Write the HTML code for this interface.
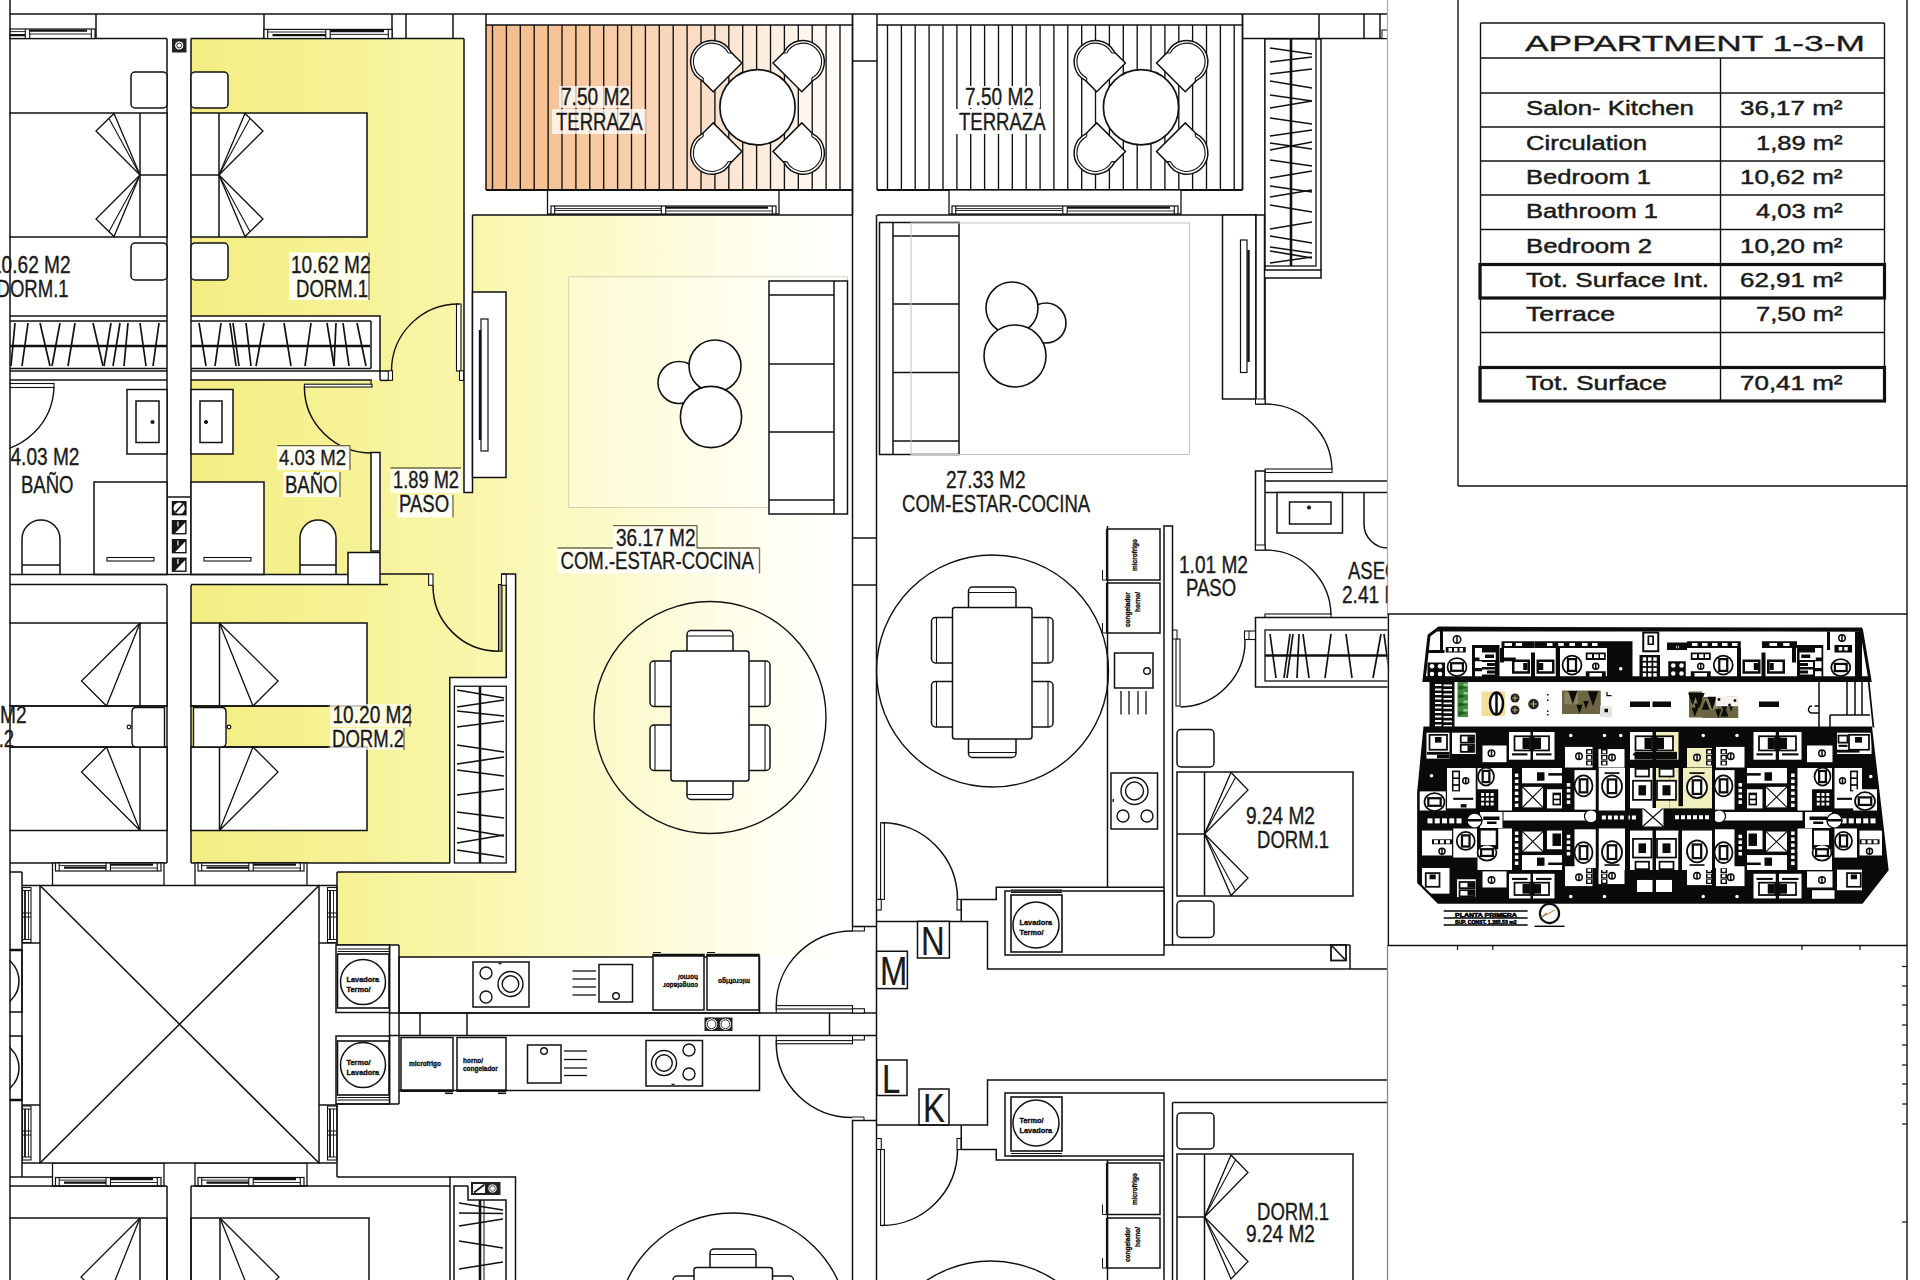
<!DOCTYPE html>
<html><head><meta charset="utf-8"><title>Appartment 1-3-M</title>
<style>
html,body{margin:0;padding:0;background:#fff;}
body{width:1920px;height:1280px;overflow:hidden;}
svg{display:block;font-family:"Liberation Sans",sans-serif;}
</style></head><body>
<svg width="1920" height="1280" viewBox="0 0 1920 1280">
<defs>
<linearGradient id="gy" gradientUnits="userSpaceOnUse" x1="191" y1="0" x2="853" y2="0">
<stop offset="0" stop-color="#f3ed82"/><stop offset="0.21" stop-color="#f6f193"/><stop offset="0.42" stop-color="#f9f6ab"/><stop offset="0.62" stop-color="#fcfac9"/><stop offset="0.8" stop-color="#fefde6"/><stop offset="0.93" stop-color="#fffffa"/><stop offset="1" stop-color="#ffffff"/>
</linearGradient>
<linearGradient id="go" gradientUnits="userSpaceOnUse" x1="486" y1="0" x2="853" y2="0">
<stop offset="0" stop-color="#f5ba88"/><stop offset="0.3" stop-color="#f7c9a2"/><stop offset="0.55" stop-color="#f9dbc2"/><stop offset="0.8" stop-color="#fdf0e4"/><stop offset="1" stop-color="#ffffff"/>
</linearGradient>
<clipPath id="clipL"><rect x="9.3" y="0" width="1378.2" height="1280"/></clipPath>
</defs>
<rect x="0" y="0" width="1920" height="1280" fill="#ffffff"/>
<g clip-path="url(#clipL)">
<rect x="191" y="38.5" width="273" height="341.5" fill="url(#gy)"/>
<rect x="191" y="380" width="273" height="205" fill="url(#gy)"/>
<rect x="380" y="492" width="473" height="93" fill="url(#gy)"/>
<rect x="472.5" y="215" width="380.5" height="742" fill="url(#gy)"/>
<rect x="191" y="585" width="310" height="278" fill="url(#gy)"/>
<rect x="337" y="872" width="183" height="73" fill="url(#gy)"/>
<rect x="399" y="944" width="121" height="13" fill="url(#gy)"/>
<rect x="486" y="25" width="367" height="165" fill="url(#go)"/>
<rect x="191" y="316" width="189" height="64" fill="#fff"/>
<rect x="380" y="370.8" width="8.300000000000011" height="9.599999999999966" fill="#fff"/>
<rect x="191" y="574.5" width="157" height="10.5" fill="#fff"/>
<rect x="450" y="677.5" width="65.5" height="194.5" fill="#fff"/>
<rect x="506.25" y="574" width="9.350000000000023" height="104" fill="#fff"/>
<rect x="501" y="585" width="5.25" height="92.5" fill="url(#gy)"/>
<rect x="191" y="863" width="146" height="9" fill="#fff"/>
<line x1="10" y1="14" x2="1387.5" y2="14" stroke="#111" stroke-width="1.5"/>
<line x1="10" y1="38.5" x2="167" y2="38.5" stroke="#111" stroke-width="1.5"/>
<line x1="191" y1="38.5" x2="464" y2="38.5" stroke="#111" stroke-width="1.5"/>
<line x1="96" y1="14" x2="96" y2="38.5" stroke="#111" stroke-width="1.5"/>
<line x1="264" y1="14" x2="264" y2="38.5" stroke="#111" stroke-width="1.5"/>
<line x1="392" y1="14" x2="392" y2="38.5" stroke="#111" stroke-width="1.5"/>
<line x1="406" y1="14" x2="406" y2="38.5" stroke="#111" stroke-width="1.5"/>
<line x1="453" y1="14" x2="453" y2="38.5" stroke="#111" stroke-width="1.5"/>
<rect x="-40" y="29" width="135" height="9.5" fill="#fff" stroke="#111" stroke-width="1.2"/>
<line x1="-36.3" y1="29" x2="-36.3" y2="38.5" stroke="#111" stroke-width="1.1"/>
<line x1="25.3" y1="29" x2="25.3" y2="38.5" stroke="#111" stroke-width="1.1"/>
<line x1="29.7" y1="29" x2="29.7" y2="38.5" stroke="#111" stroke-width="1.1"/>
<line x1="91.3" y1="29" x2="91.3" y2="38.5" stroke="#111" stroke-width="1.1"/>
<line x1="-31.5" y1="35.2" x2="25.3" y2="35.2" stroke="#111" stroke-width="2.2"/>
<line x1="-36.3" y1="31.6" x2="25.3" y2="31.6" stroke="#111" stroke-width="0.9"/>
<line x1="29.7" y1="30.6" x2="87" y2="30.6" stroke="#111" stroke-width="2.4"/>
<line x1="29.7" y1="34" x2="91.3" y2="34" stroke="#111" stroke-width="0.9"/>
<rect x="264" y="29.4" width="128" height="9.100000000000001" fill="#fff" stroke="#111" stroke-width="1.2"/>
<line x1="267.7" y1="29.4" x2="267.7" y2="38.5" stroke="#111" stroke-width="1.1"/>
<line x1="325.8" y1="29.4" x2="325.8" y2="38.5" stroke="#111" stroke-width="1.1"/>
<line x1="330.2" y1="29.4" x2="330.2" y2="38.5" stroke="#111" stroke-width="1.1"/>
<line x1="388.3" y1="29.4" x2="388.3" y2="38.5" stroke="#111" stroke-width="1.1"/>
<line x1="272.5" y1="35.2" x2="325.8" y2="35.2" stroke="#111" stroke-width="2.2"/>
<line x1="267.7" y1="32.0" x2="325.8" y2="32.0" stroke="#111" stroke-width="0.9"/>
<line x1="330.2" y1="31.0" x2="384" y2="31.0" stroke="#111" stroke-width="2.4"/>
<line x1="330.2" y1="34.4" x2="388.3" y2="34.4" stroke="#111" stroke-width="0.9"/>
<line x1="167" y1="38.5" x2="167" y2="574.5" stroke="#111" stroke-width="1.5"/>
<line x1="191" y1="38.5" x2="191" y2="574.5" stroke="#111" stroke-width="1.5"/>
<line x1="167" y1="585" x2="167" y2="863" stroke="#111" stroke-width="1.5"/>
<line x1="191" y1="585" x2="191" y2="863" stroke="#111" stroke-width="1.5"/>
<line x1="167" y1="1186" x2="167" y2="1280" stroke="#111" stroke-width="1.5"/>
<line x1="191" y1="1186" x2="191" y2="1280" stroke="#111" stroke-width="1.5"/>
<rect x="172" y="38.5" width="14.5" height="14.0" fill="#222"/>
<circle cx="179.2" cy="45.5" r="4.6" fill="#fff" stroke="#111" stroke-width="1"/>
<circle cx="179.2" cy="45.5" r="2.4" fill="#fff" stroke="#111" stroke-width="0.9"/>
<rect x="191" y="72" width="37" height="36" fill="#fff" stroke="#111" stroke-width="1.5" rx="4"/>
<rect x="131" y="72" width="36" height="36" fill="#fff" stroke="#111" stroke-width="1.5" rx="4"/>
<rect x="191" y="243" width="37" height="37" fill="#fff" stroke="#111" stroke-width="1.5" rx="4"/>
<rect x="131" y="243" width="36" height="37" fill="#fff" stroke="#111" stroke-width="1.5" rx="4"/>
<rect x="191" y="113" width="176" height="124" fill="#fff" stroke="#111" stroke-width="1.5"/>
<line x1="219" y1="113" x2="219" y2="237" stroke="#111" stroke-width="1.5"/>
<line x1="191" y1="175" x2="219" y2="175" stroke="#111" stroke-width="1.5"/>
<path d="M219,175 L245,113.5 L263,131.0 Z" fill="none" stroke="#111" stroke-width="1.3" />
<line x1="219" y1="175" x2="250" y2="118.4" stroke="#111" stroke-width="1.1"/>
<path d="M219,175 L245,236.5 L263,219.0 Z" fill="none" stroke="#111" stroke-width="1.3" />
<line x1="219" y1="175" x2="250" y2="231.6" stroke="#111" stroke-width="1.1"/>
<rect x="-20" y="113" width="187" height="124" fill="#fff" stroke="#111" stroke-width="1.5"/>
<line x1="140" y1="113" x2="140" y2="237" stroke="#111" stroke-width="1.5"/>
<line x1="140" y1="175" x2="167" y2="175" stroke="#111" stroke-width="1.5"/>
<path d="M140,175 L114,113.5 L96,131.0 Z" fill="none" stroke="#111" stroke-width="1.3" />
<line x1="140" y1="175" x2="109" y2="118.4" stroke="#111" stroke-width="1.1"/>
<path d="M140,175 L114,236.5 L96,219.0 Z" fill="none" stroke="#111" stroke-width="1.3" />
<line x1="140" y1="175" x2="109" y2="231.6" stroke="#111" stroke-width="1.1"/>
<path d="M191,316 L380,316 L380,371" fill="none" stroke="#111" stroke-width="1.5" />
<line x1="191" y1="321" x2="371" y2="321" stroke="#111" stroke-width="1.5"/>
<line x1="371" y1="321" x2="371" y2="368.5" stroke="#111" stroke-width="1.5"/>
<line x1="191" y1="368.5" x2="371" y2="368.5" stroke="#111" stroke-width="1.5"/>
<line x1="191" y1="371" x2="388" y2="371" stroke="#111" stroke-width="1.5"/>
<line x1="380" y1="371" x2="380" y2="380" stroke="#111" stroke-width="1.5"/>
<line x1="191" y1="346" x2="370" y2="346" stroke="#111" stroke-width="2.6"/>
<line x1="199" y1="323" x2="206" y2="366" stroke="#111" stroke-width="1.7"/>
<line x1="221" y1="323" x2="215" y2="366" stroke="#111" stroke-width="1.7"/>
<line x1="230" y1="323" x2="236" y2="366" stroke="#111" stroke-width="1.7"/>
<line x1="233" y1="323" x2="239" y2="366" stroke="#111" stroke-width="1.7"/>
<line x1="246" y1="323" x2="251" y2="366" stroke="#111" stroke-width="1.7"/>
<line x1="264" y1="323" x2="256" y2="366" stroke="#111" stroke-width="1.7"/>
<line x1="284" y1="323" x2="291" y2="366" stroke="#111" stroke-width="1.7"/>
<line x1="311" y1="323" x2="305" y2="366" stroke="#111" stroke-width="1.7"/>
<line x1="327" y1="323" x2="334" y2="366" stroke="#111" stroke-width="1.7"/>
<line x1="336" y1="323" x2="334" y2="366" stroke="#111" stroke-width="1.7"/>
<line x1="343" y1="323" x2="349" y2="366" stroke="#111" stroke-width="1.7"/>
<line x1="357" y1="323" x2="366" y2="366" stroke="#111" stroke-width="1.7"/>
<line x1="10" y1="316" x2="167" y2="316" stroke="#111" stroke-width="1.5"/>
<line x1="10" y1="321" x2="167" y2="321" stroke="#111" stroke-width="1.5"/>
<line x1="10" y1="368.5" x2="167" y2="368.5" stroke="#111" stroke-width="1.5"/>
<line x1="10" y1="371" x2="167" y2="371" stroke="#111" stroke-width="1.5"/>
<line x1="10" y1="346" x2="167" y2="346" stroke="#111" stroke-width="2.6"/>
<line x1="15" y1="323" x2="11" y2="366" stroke="#111" stroke-width="1.7"/>
<line x1="28" y1="323" x2="22" y2="366" stroke="#111" stroke-width="1.7"/>
<line x1="40" y1="323" x2="50" y2="366" stroke="#111" stroke-width="1.7"/>
<line x1="60" y1="323" x2="52" y2="366" stroke="#111" stroke-width="1.7"/>
<line x1="75" y1="323" x2="68" y2="366" stroke="#111" stroke-width="1.7"/>
<line x1="93" y1="323" x2="103" y2="366" stroke="#111" stroke-width="1.7"/>
<line x1="111" y1="323" x2="104" y2="366" stroke="#111" stroke-width="1.7"/>
<line x1="120" y1="323" x2="113" y2="366" stroke="#111" stroke-width="1.7"/>
<line x1="128" y1="323" x2="124" y2="366" stroke="#111" stroke-width="1.7"/>
<line x1="140" y1="323" x2="146" y2="366" stroke="#111" stroke-width="1.7"/>
<line x1="159" y1="323" x2="153" y2="366" stroke="#111" stroke-width="1.7"/>
<rect x="456.5" y="304" width="4.5" height="67" fill="#fff" stroke="#111" stroke-width="1.1"/>
<path d="M458.5,304 A67,67 0 0 0 391.5,371" fill="none" stroke="#111" stroke-width="1.4" />
<rect x="388.3" y="370.8" width="4.199999999999989" height="9.599999999999966" fill="#fff" stroke="#111" stroke-width="1.1"/>
<rect x="459.5" y="370.8" width="4.199999999999989" height="9.599999999999966" fill="#fff" stroke="#111" stroke-width="1.1"/>
<line x1="380" y1="380.4" x2="388.3" y2="380.4" stroke="#111" stroke-width="1.5"/>
<rect x="464" y="38.5" width="8.5" height="454.0" fill="#fff"/>
<path d="M464,38.5 L464,492.5 L472.5,492.5 L472.5,215" fill="none" stroke="#111" stroke-width="1.5" />
<line x1="10" y1="380" x2="167" y2="380" stroke="#111" stroke-width="1.5"/>
<line x1="191" y1="380" x2="372" y2="380" stroke="#111" stroke-width="1.5"/>
<rect x="191" y="389.5" width="42" height="64.5" fill="#fff" stroke="#111" stroke-width="1.5"/>
<rect x="200" y="401" width="22" height="41.5" fill="#fff" stroke="#111" stroke-width="1.5"/>
<circle cx="206" cy="422" r="1.6" fill="#222" stroke="#111" stroke-width="1"/>
<rect x="127" y="389.5" width="40" height="64.5" fill="#fff" stroke="#111" stroke-width="1.5"/>
<rect x="136" y="401" width="23" height="41.5" fill="#fff" stroke="#111" stroke-width="1.5"/>
<circle cx="152.5" cy="422" r="1.6" fill="#222" stroke="#111" stroke-width="1"/>
<rect x="191" y="482" width="73" height="92.5" fill="#fff" stroke="#111" stroke-width="1.5"/>
<rect x="204" y="557.5" width="47" height="3.5" fill="#fff" stroke="#111" stroke-width="1.1"/>
<rect x="94" y="482" width="73" height="92.5" fill="#fff" stroke="#111" stroke-width="1.5"/>
<rect x="107" y="557.5" width="47" height="3.5" fill="#fff" stroke="#111" stroke-width="1.1"/>
<path d="M300,574.5 L300,538.0 A18.0,18.0 0 0 1 336,538.0 L336,574.5" fill="#fff" stroke="#111" stroke-width="1.5" />
<line x1="300" y1="565" x2="336" y2="565" stroke="#111" stroke-width="1.5"/>
<path d="M22,574.5 L22,539.0 A19.0,19.0 0 0 1 60,539.0 L60,574.5" fill="#fff" stroke="#111" stroke-width="1.5" />
<line x1="22" y1="565" x2="60" y2="565" stroke="#111" stroke-width="1.5"/>
<line x1="167" y1="497" x2="191" y2="497" stroke="#111" stroke-width="1.5"/>
<rect x="171.8" y="501" width="14.799999999999983" height="14.399999999999977" fill="#161616"/>
<circle cx="179.2" cy="508.2" r="5.6" fill="#fff" stroke="#111" stroke-width="0"/>
<line x1="175.4" y1="512.4" x2="183" y2="504" stroke="#161616" stroke-width="1.7"/>
<rect x="171.8" y="520" width="14.799999999999983" height="14.399999999999977" fill="#161616"/>
<path d="M175.2,533 L185.2,522.4 L185.2,533 Z" fill="#fff" stroke="#111" stroke-width="0" />
<line x1="177.9" y1="521.5" x2="177.9" y2="526.5" stroke="#fff" stroke-width="1.1"/>
<rect x="171.8" y="539" width="14.799999999999983" height="14.399999999999977" fill="#161616"/>
<path d="M175.2,552 L185.2,541.4 L185.2,552 Z" fill="#fff" stroke="#111" stroke-width="0" />
<line x1="177.9" y1="540.5" x2="177.9" y2="545.5" stroke="#fff" stroke-width="1.1"/>
<rect x="171.8" y="557.5" width="14.799999999999983" height="14.399999999999977" fill="#161616"/>
<path d="M175.2,570.5 L185.2,559.9 L185.2,570.5 Z" fill="#fff" stroke="#111" stroke-width="0" />
<line x1="177.9" y1="559.0" x2="177.9" y2="564.0" stroke="#fff" stroke-width="1.1"/>
<rect x="304.4" y="384.2" width="67.60000000000002" height="2.8000000000000114" fill="#fff" stroke="#111" stroke-width="1.1"/>
<path d="M304.4,387 A67.5,66 0 0 0 372,453" fill="none" stroke="#111" stroke-width="1.5" />
<line x1="371" y1="380.5" x2="371" y2="384.2" stroke="#111" stroke-width="1.1"/>
<rect x="371" y="452.5" width="9" height="98.5" fill="#fff" stroke="#111" stroke-width="1.5"/>
<rect x="348" y="552.5" width="32" height="32.0" fill="#fff" stroke="#111" stroke-width="1.5"/>
<rect x="-20" y="383.5" width="74" height="4.0" fill="#fff" stroke="#111" stroke-width="1.1"/>
<path d="M54,387 A67,67 0 0 1 -13,452" fill="none" stroke="#111" stroke-width="1.4" />
<line x1="10" y1="574.5" x2="348" y2="574.5" stroke="#111" stroke-width="1.5"/>
<line x1="10" y1="584.5" x2="167" y2="584.5" stroke="#111" stroke-width="1.5"/>
<line x1="191" y1="584.5" x2="348" y2="584.5" stroke="#111" stroke-width="1.5"/>
<line x1="380" y1="584.5" x2="388" y2="584.5" stroke="#111" stroke-width="1.5"/>
<rect x="191" y="623" width="176" height="83" fill="#fff" stroke="#111" stroke-width="1.5"/>
<rect x="191" y="747" width="176" height="83.5" fill="#fff" stroke="#111" stroke-width="1.5"/>
<line x1="219.5" y1="623" x2="219.5" y2="706" stroke="#111" stroke-width="1.5"/>
<line x1="219.5" y1="747" x2="219.5" y2="830.5" stroke="#111" stroke-width="1.5"/>
<path d="M219.5,623 L278.0,681 L253.0,706 Z" fill="none" stroke="#111" stroke-width="1.3" />
<path d="M219.5,830.5 L278.0,772 L253.0,747 Z" fill="none" stroke="#111" stroke-width="1.3" />
<rect x="-20" y="623" width="187" height="83" fill="#fff" stroke="#111" stroke-width="1.5"/>
<rect x="-20" y="747" width="187" height="83.5" fill="#fff" stroke="#111" stroke-width="1.5"/>
<line x1="140" y1="623" x2="140" y2="706" stroke="#111" stroke-width="1.5"/>
<line x1="140" y1="747" x2="140" y2="830.5" stroke="#111" stroke-width="1.5"/>
<path d="M140,623 L81.5,681 L106.5,706 Z" fill="none" stroke="#111" stroke-width="1.3" />
<path d="M140,830.5 L81.5,772 L106.5,747 Z" fill="none" stroke="#111" stroke-width="1.3" />
<line x1="191" y1="706" x2="328" y2="706" stroke="#111" stroke-width="1.5"/>
<line x1="191" y1="747" x2="328" y2="747" stroke="#111" stroke-width="1.5"/>
<line x1="10" y1="706" x2="167" y2="706" stroke="#111" stroke-width="1.5"/>
<line x1="10" y1="747" x2="167" y2="747" stroke="#111" stroke-width="1.5"/>
<path d="M193.5,707.5 L222,707.5 Q226,707.5 226,712 L226,742 Q226,747 222,747 L193.5,747 Z" fill="#fff" stroke="#111" stroke-width="1.4" />
<circle cx="229" cy="727" r="1.8" fill="#fff" stroke="#111" stroke-width="1.2"/>
<path d="M164.5,707.5 L136,707.5 Q132,707.5 132,712 L132,742 Q132,747 136,747 L164.5,747 Z" fill="#fff" stroke="#111" stroke-width="1.4" />
<circle cx="129" cy="727" r="1.8" fill="#fff" stroke="#111" stroke-width="1.2"/>
<line x1="10" y1="863" x2="167" y2="863" stroke="#111" stroke-width="1.5"/>
<line x1="191" y1="863" x2="450" y2="863" stroke="#111" stroke-width="1.5"/>
<rect x="498.5" y="584.6" width="3.5" height="66.64999999999998" fill="#a39d7c" stroke="#111" stroke-width="1.1"/>
<path d="M433,585.25 A65.5,65.5 0 0 0 498.5,651.25" fill="none" stroke="#111" stroke-width="1.5" />
<rect x="428.6" y="574" width="4.399999999999977" height="11.25" fill="#fff" stroke="#111" stroke-width="1.1"/>
<line x1="380.3" y1="574" x2="428.6" y2="574" stroke="#111" stroke-width="1.5"/>
<rect x="501.5" y="574" width="4.75" height="11.25" fill="#fff" stroke="#111" stroke-width="1.1"/>
<path d="M501.5,574 L515.6,574 L515.6,872 L337,872" fill="none" stroke="#111" stroke-width="1.5" />
<path d="M506.25,585 L506.25,677.5 L449.75,677.5 L449.75,863" fill="none" stroke="#111" stroke-width="1.5" />
<rect x="454.4" y="686.25" width="51.85000000000002" height="176.75" fill="#fff" stroke="#111" stroke-width="1.3"/>
<line x1="480" y1="686" x2="480" y2="863" stroke="#111" stroke-width="2.6"/>
<line x1="457" y1="690" x2="504" y2="698" stroke="#111" stroke-width="1.7"/>
<line x1="457" y1="707" x2="504" y2="700" stroke="#111" stroke-width="1.7"/>
<line x1="457" y1="711" x2="504" y2="716" stroke="#111" stroke-width="1.7"/>
<line x1="457" y1="727" x2="504" y2="721" stroke="#111" stroke-width="1.7"/>
<line x1="457" y1="745" x2="504" y2="752" stroke="#111" stroke-width="1.7"/>
<line x1="457" y1="764" x2="504" y2="757" stroke="#111" stroke-width="1.7"/>
<line x1="457" y1="770" x2="504" y2="776" stroke="#111" stroke-width="1.7"/>
<line x1="457" y1="795" x2="504" y2="789" stroke="#111" stroke-width="1.7"/>
<line x1="457" y1="812" x2="504" y2="818" stroke="#111" stroke-width="1.7"/>
<line x1="457" y1="828" x2="504" y2="836" stroke="#111" stroke-width="1.7"/>
<line x1="457" y1="843" x2="504" y2="835" stroke="#111" stroke-width="1.7"/>
<line x1="457" y1="850" x2="504" y2="857" stroke="#111" stroke-width="1.7"/>
<rect x="52.5" y="863" width="111.5" height="22.5" fill="#fff" stroke="#111" stroke-width="1.3"/>
<rect x="55.5" y="863" width="105.5" height="8" fill="#fff" stroke="#111" stroke-width="1.2"/>
<line x1="59.2" y1="863" x2="59.2" y2="871" stroke="#111" stroke-width="1.1"/>
<line x1="106.05" y1="863" x2="106.05" y2="871" stroke="#111" stroke-width="1.1"/>
<line x1="110.45" y1="863" x2="110.45" y2="871" stroke="#111" stroke-width="1.1"/>
<line x1="157.3" y1="863" x2="157.3" y2="871" stroke="#111" stroke-width="1.1"/>
<line x1="64.0" y1="867.7" x2="106.05" y2="867.7" stroke="#111" stroke-width="2.2"/>
<line x1="59.2" y1="865.6" x2="106.05" y2="865.6" stroke="#111" stroke-width="0.9"/>
<line x1="110.45" y1="864.6" x2="153" y2="864.6" stroke="#111" stroke-width="2.4"/>
<line x1="110.45" y1="868" x2="157.3" y2="868" stroke="#111" stroke-width="0.9"/>
<rect x="52.5" y="1163" width="111.5" height="23" fill="#fff" stroke="#111" stroke-width="1.3"/>
<rect x="55.5" y="1177.5" width="105.5" height="8.5" fill="#fff" stroke="#111" stroke-width="1.2"/>
<line x1="59.2" y1="1177.5" x2="59.2" y2="1186" stroke="#111" stroke-width="1.1"/>
<line x1="106.05" y1="1177.5" x2="106.05" y2="1186" stroke="#111" stroke-width="1.1"/>
<line x1="110.45" y1="1177.5" x2="110.45" y2="1186" stroke="#111" stroke-width="1.1"/>
<line x1="157.3" y1="1177.5" x2="157.3" y2="1186" stroke="#111" stroke-width="1.1"/>
<line x1="64.0" y1="1182.7" x2="106.05" y2="1182.7" stroke="#111" stroke-width="2.2"/>
<line x1="59.2" y1="1180.1" x2="106.05" y2="1180.1" stroke="#111" stroke-width="0.9"/>
<line x1="110.45" y1="1179.1" x2="153" y2="1179.1" stroke="#111" stroke-width="2.4"/>
<line x1="110.45" y1="1182.5" x2="157.3" y2="1182.5" stroke="#111" stroke-width="0.9"/>
<rect x="195" y="863" width="112" height="22.5" fill="#fff" stroke="#111" stroke-width="1.3"/>
<rect x="198" y="863" width="106" height="8" fill="#fff" stroke="#111" stroke-width="1.2"/>
<line x1="201.7" y1="863" x2="201.7" y2="871" stroke="#111" stroke-width="1.1"/>
<line x1="248.8" y1="863" x2="248.8" y2="871" stroke="#111" stroke-width="1.1"/>
<line x1="253.2" y1="863" x2="253.2" y2="871" stroke="#111" stroke-width="1.1"/>
<line x1="300.3" y1="863" x2="300.3" y2="871" stroke="#111" stroke-width="1.1"/>
<line x1="206.5" y1="867.7" x2="248.8" y2="867.7" stroke="#111" stroke-width="2.2"/>
<line x1="201.7" y1="865.6" x2="248.8" y2="865.6" stroke="#111" stroke-width="0.9"/>
<line x1="253.2" y1="864.6" x2="296" y2="864.6" stroke="#111" stroke-width="2.4"/>
<line x1="253.2" y1="868" x2="300.3" y2="868" stroke="#111" stroke-width="0.9"/>
<rect x="195" y="1163" width="112" height="23" fill="#fff" stroke="#111" stroke-width="1.3"/>
<rect x="198" y="1177.5" width="106" height="8.5" fill="#fff" stroke="#111" stroke-width="1.2"/>
<line x1="201.7" y1="1177.5" x2="201.7" y2="1186" stroke="#111" stroke-width="1.1"/>
<line x1="248.8" y1="1177.5" x2="248.8" y2="1186" stroke="#111" stroke-width="1.1"/>
<line x1="253.2" y1="1177.5" x2="253.2" y2="1186" stroke="#111" stroke-width="1.1"/>
<line x1="300.3" y1="1177.5" x2="300.3" y2="1186" stroke="#111" stroke-width="1.1"/>
<line x1="206.5" y1="1182.7" x2="248.8" y2="1182.7" stroke="#111" stroke-width="2.2"/>
<line x1="201.7" y1="1180.1" x2="248.8" y2="1180.1" stroke="#111" stroke-width="0.9"/>
<line x1="253.2" y1="1179.1" x2="296" y2="1179.1" stroke="#111" stroke-width="2.4"/>
<line x1="253.2" y1="1182.5" x2="300.3" y2="1182.5" stroke="#111" stroke-width="0.9"/>
<line x1="10" y1="872" x2="22" y2="872" stroke="#111" stroke-width="1.5"/>
<line x1="22" y1="872" x2="22" y2="1177" stroke="#111" stroke-width="1.5"/>
<line x1="10" y1="1177" x2="52.5" y2="1177" stroke="#111" stroke-width="1.5"/>
<line x1="22" y1="885.5" x2="40" y2="885.5" stroke="#111" stroke-width="1.5"/>
<rect x="40" y="885.5" width="279" height="277.5" fill="#fff" stroke="#111" stroke-width="1.5"/>
<line x1="40" y1="885.5" x2="319" y2="1163" stroke="#111" stroke-width="1.5"/>
<line x1="319" y1="885.5" x2="40" y2="1163" stroke="#111" stroke-width="1.5"/>
<line x1="22" y1="1163" x2="40" y2="1163" stroke="#111" stroke-width="1.5"/>
<line x1="319" y1="1163" x2="337" y2="1163" stroke="#111" stroke-width="1.5"/>
<line x1="319" y1="885.5" x2="337" y2="885.5" stroke="#111" stroke-width="1.5"/>
<rect x="327.5" y="887.5" width="9.5" height="55.0" fill="#fff" stroke="#111" stroke-width="1.1"/>
<line x1="330.0" y1="890.5" x2="330.0" y2="939.5" stroke="#111" stroke-width="1.8"/>
<line x1="333.5" y1="890.5" x2="333.5" y2="939.5" stroke="#111" stroke-width="0.9"/>
<line x1="327.5" y1="913.0" x2="337" y2="913.0" stroke="#111" stroke-width="1"/>
<line x1="327.5" y1="917.0" x2="337" y2="917.0" stroke="#111" stroke-width="1"/>
<line x1="327.5" y1="890.5" x2="337" y2="890.5" stroke="#111" stroke-width="1"/>
<line x1="327.5" y1="939.5" x2="337" y2="939.5" stroke="#111" stroke-width="1"/>
<rect x="22.5" y="887.5" width="8.5" height="55.0" fill="#fff" stroke="#111" stroke-width="1.1"/>
<line x1="25.0" y1="890.5" x2="25.0" y2="939.5" stroke="#111" stroke-width="1.8"/>
<line x1="28.5" y1="890.5" x2="28.5" y2="939.5" stroke="#111" stroke-width="0.9"/>
<line x1="22.5" y1="913.0" x2="31" y2="913.0" stroke="#111" stroke-width="1"/>
<line x1="22.5" y1="917.0" x2="31" y2="917.0" stroke="#111" stroke-width="1"/>
<line x1="22.5" y1="890.5" x2="31" y2="890.5" stroke="#111" stroke-width="1"/>
<line x1="22.5" y1="939.5" x2="31" y2="939.5" stroke="#111" stroke-width="1"/>
<rect x="327.5" y="1106" width="9.5" height="54" fill="#fff" stroke="#111" stroke-width="1.1"/>
<line x1="330.0" y1="1109" x2="330.0" y2="1157" stroke="#111" stroke-width="1.8"/>
<line x1="333.5" y1="1109" x2="333.5" y2="1157" stroke="#111" stroke-width="0.9"/>
<line x1="327.5" y1="1131.0" x2="337" y2="1131.0" stroke="#111" stroke-width="1"/>
<line x1="327.5" y1="1135.0" x2="337" y2="1135.0" stroke="#111" stroke-width="1"/>
<line x1="327.5" y1="1109" x2="337" y2="1109" stroke="#111" stroke-width="1"/>
<line x1="327.5" y1="1157" x2="337" y2="1157" stroke="#111" stroke-width="1"/>
<rect x="22.5" y="1106" width="8.5" height="54" fill="#fff" stroke="#111" stroke-width="1.1"/>
<line x1="25.0" y1="1109" x2="25.0" y2="1157" stroke="#111" stroke-width="1.8"/>
<line x1="28.5" y1="1109" x2="28.5" y2="1157" stroke="#111" stroke-width="0.9"/>
<line x1="22.5" y1="1131.0" x2="31" y2="1131.0" stroke="#111" stroke-width="1"/>
<line x1="22.5" y1="1135.0" x2="31" y2="1135.0" stroke="#111" stroke-width="1"/>
<line x1="22.5" y1="1109" x2="31" y2="1109" stroke="#111" stroke-width="1"/>
<line x1="22.5" y1="1157" x2="31" y2="1157" stroke="#111" stroke-width="1"/>
<line x1="337" y1="872" x2="337" y2="945" stroke="#111" stroke-width="1.5"/>
<line x1="319" y1="943" x2="337" y2="943" stroke="#111" stroke-width="1.5"/>
<line x1="22" y1="943" x2="40" y2="943" stroke="#111" stroke-width="1.5"/>
<line x1="337" y1="1104" x2="337" y2="1177" stroke="#111" stroke-width="1.5"/>
<line x1="319" y1="1105" x2="337" y2="1105" stroke="#111" stroke-width="1.5"/>
<line x1="22" y1="1105" x2="40" y2="1105" stroke="#111" stroke-width="1.5"/>
<line x1="472.5" y1="215" x2="852.5" y2="215" stroke="#111" stroke-width="1.5"/>
<line x1="852.5" y1="215" x2="852.5" y2="926.5" stroke="#111" stroke-width="1.5"/>
<rect x="547.5" y="190" width="231.5" height="24" fill="#fff" stroke="#111" stroke-width="1.3"/>
<rect x="551" y="206" width="225" height="8" fill="#fff" stroke="#111" stroke-width="1.2"/>
<line x1="554.7" y1="206" x2="554.7" y2="214" stroke="#111" stroke-width="1.1"/>
<line x1="661.3" y1="206" x2="661.3" y2="214" stroke="#111" stroke-width="1.1"/>
<line x1="665.7" y1="206" x2="665.7" y2="214" stroke="#111" stroke-width="1.1"/>
<line x1="772.3" y1="206" x2="772.3" y2="214" stroke="#111" stroke-width="1.1"/>
<line x1="554.7" y1="210.5" x2="661.3" y2="210.5" stroke="#111" stroke-width="0.9"/>
<line x1="554.7" y1="208.6" x2="661.3" y2="208.6" stroke="#111" stroke-width="0.9"/>
<line x1="665.7" y1="207.6" x2="768" y2="207.6" stroke="#111" stroke-width="2.4"/>
<line x1="665.7" y1="211" x2="772.3" y2="211" stroke="#111" stroke-width="0.9"/>
<rect x="472.5" y="292" width="33.5" height="185.5" fill="#fff" stroke="#111" stroke-width="1.5"/>
<rect x="481" y="319" width="7" height="132" fill="#fff" stroke="#111" stroke-width="1.2"/>
<line x1="480" y1="330" x2="480" y2="440" stroke="#111" stroke-width="2.4"/>
<rect x="569" y="277" width="278.5" height="230.5" fill="#fff" stroke="#b9b9a6" stroke-width="1"/>
<rect x="569" y="277" width="278.5" height="230.5" fill="url(#gy)" opacity="0.75"/>
<rect x="769" y="281" width="78.5" height="233" fill="#fff" stroke="#111" stroke-width="1.5"/>
<line x1="834" y1="281" x2="834" y2="514" stroke="#111" stroke-width="1.5"/>
<line x1="769" y1="295" x2="834" y2="295" stroke="#111" stroke-width="1.5"/>
<line x1="769" y1="364" x2="834" y2="364" stroke="#111" stroke-width="1.5"/>
<line x1="769" y1="432" x2="834" y2="432" stroke="#111" stroke-width="1.5"/>
<line x1="769" y1="500" x2="834" y2="500" stroke="#111" stroke-width="1.5"/>
<circle cx="679" cy="382.5" r="21" fill="#fff" stroke="#111" stroke-width="1.6"/>
<circle cx="715" cy="366" r="26" fill="#fff" stroke="#111" stroke-width="1.6"/>
<circle cx="711" cy="417" r="30.6" fill="#fff" stroke="#111" stroke-width="1.6"/>
<circle cx="710" cy="717.5" r="116" fill="none" stroke="#111" stroke-width="1.4"/>
<rect x="687" y="630.5" width="46" height="24.5" fill="#fff" stroke="#111" stroke-width="1.5" rx="4"/>
<line x1="687" y1="636" x2="733" y2="636" stroke="#111" stroke-width="1.1"/>
<rect x="687" y="777" width="46" height="22.5" fill="#fff" stroke="#111" stroke-width="1.5" rx="4"/>
<line x1="687" y1="794.5" x2="733" y2="794.5" stroke="#111" stroke-width="1.1"/>
<rect x="650" y="661" width="25" height="45.5" fill="#fff" stroke="#111" stroke-width="1.5" rx="4"/>
<line x1="655" y1="661" x2="655" y2="706.5" stroke="#111" stroke-width="1.1"/>
<rect x="745" y="661" width="25" height="45.5" fill="#fff" stroke="#111" stroke-width="1.5" rx="4"/>
<line x1="765" y1="661" x2="765" y2="706.5" stroke="#111" stroke-width="1.1"/>
<rect x="650" y="725" width="25" height="45.5" fill="#fff" stroke="#111" stroke-width="1.5" rx="4"/>
<line x1="655" y1="725" x2="655" y2="770.5" stroke="#111" stroke-width="1.1"/>
<rect x="745" y="725" width="25" height="45.5" fill="#fff" stroke="#111" stroke-width="1.5" rx="4"/>
<line x1="765" y1="725" x2="765" y2="770.5" stroke="#111" stroke-width="1.1"/>
<rect x="671" y="651" width="78" height="130" fill="#fff" stroke="#111" stroke-width="1.5" rx="2.5"/>
<rect x="399" y="957" width="360.5" height="56" fill="#fff" stroke="#111" stroke-width="1.5"/>
<line x1="337" y1="945" x2="399" y2="945" stroke="#111" stroke-width="1.5"/>
<line x1="389.5" y1="945" x2="389.5" y2="1104" stroke="#111" stroke-width="1.5"/>
<line x1="399" y1="945" x2="399" y2="1104" stroke="#111" stroke-width="1.5"/>
<rect x="473" y="962" width="56" height="45" fill="#fff" stroke="#111" stroke-width="1.5"/>
<circle cx="510.5" cy="984" r="12.5" fill="none" stroke="#111" stroke-width="1.4"/>
<circle cx="510.5" cy="984" r="8.3" fill="none" stroke="#111" stroke-width="1.4"/>
<circle cx="486" cy="973" r="6" fill="none" stroke="#111" stroke-width="1.4"/>
<circle cx="486" cy="997" r="6" fill="none" stroke="#111" stroke-width="1.4"/>
<rect x="498.5" y="962.7" width="3.0" height="1.599999999999909" fill="#222"/>
<rect x="599" y="964.5" width="33.5" height="37.5" fill="#fff" stroke="#111" stroke-width="1.5"/>
<circle cx="616" cy="996" r="3.3" fill="none" stroke="#111" stroke-width="1.4"/>
<line x1="572.5" y1="971" x2="596" y2="971" stroke="#111" stroke-width="1.3"/>
<line x1="572.5" y1="979" x2="596" y2="979" stroke="#111" stroke-width="1.3"/>
<line x1="572.5" y1="987" x2="596" y2="987" stroke="#111" stroke-width="1.3"/>
<line x1="572.5" y1="995" x2="596" y2="995" stroke="#111" stroke-width="1.3"/>
<rect x="653" y="954.5" width="51" height="55.5" fill="#fff" stroke="#111" stroke-width="1.5"/>
<line x1="653" y1="955.3" x2="704" y2="955.3" stroke="#111" stroke-width="2.8"/>
<line x1="653" y1="952.5" x2="661" y2="952.5" stroke="#111" stroke-width="1"/>
<rect x="707" y="954.5" width="52" height="55.5" fill="#fff" stroke="#111" stroke-width="1.5"/>
<line x1="707" y1="955.3" x2="759" y2="955.3" stroke="#111" stroke-width="2.8"/>
<line x1="707" y1="952.5" x2="715" y2="952.5" stroke="#111" stroke-width="1"/>
<rect x="336" y="945" width="53.5" height="67.5" fill="#fff" stroke="#111" stroke-width="1.5"/>
<rect x="337.5" y="954" width="51.5" height="54" fill="#fff" stroke="#111" stroke-width="1.6"/>
<line x1="337.5" y1="951.5" x2="389" y2="951.5" stroke="#111" stroke-width="1"/>
<line x1="337.5" y1="949" x2="389" y2="949" stroke="#111" stroke-width="1"/>
<circle cx="363" cy="982" r="22.5" fill="#fff" stroke="#111" stroke-width="1.5"/>
<text transform="translate(346.5,981.5) scale(0.92,1)" font-size="8" text-anchor="start" fill="#111" font-weight="bold" stroke="#111" stroke-width="0.4">Lavadora</text>
<text transform="translate(346.5,991.5) scale(0.92,1)" font-size="8" text-anchor="start" fill="#111" font-weight="bold" stroke="#111" stroke-width="0.4">Termo/</text>
<rect x="336" y="1036" width="53.5" height="68" fill="#fff" stroke="#111" stroke-width="1.5"/>
<rect x="337.5" y="1041" width="51.5" height="54" fill="#fff" stroke="#111" stroke-width="1.6"/>
<line x1="337.5" y1="1097.5" x2="389" y2="1097.5" stroke="#111" stroke-width="1"/>
<line x1="337.5" y1="1100" x2="389" y2="1100" stroke="#111" stroke-width="1"/>
<circle cx="363" cy="1065" r="22.5" fill="#fff" stroke="#111" stroke-width="1.5"/>
<text transform="translate(346.5,1064.5) scale(0.92,1)" font-size="8" text-anchor="start" fill="#111" font-weight="bold" stroke="#111" stroke-width="0.4">Termo/</text>
<text transform="translate(346.5,1074.5) scale(0.92,1)" font-size="8" text-anchor="start" fill="#111" font-weight="bold" stroke="#111" stroke-width="0.4">Lavadora</text>
<rect x="-10" y="950" width="32" height="62" fill="none" stroke="#111" stroke-width="1.5"/>
<circle cx="-8" cy="981" r="27" fill="none" stroke="#111" stroke-width="1.5"/>
<rect x="-10" y="1036" width="32" height="64" fill="none" stroke="#111" stroke-width="1.5"/>
<circle cx="-8" cy="1068" r="27" fill="none" stroke="#111" stroke-width="1.5"/>
<line x1="10" y1="950" x2="22" y2="950" stroke="#111" stroke-width="2.5"/>
<line x1="10" y1="1100" x2="22" y2="1100" stroke="#111" stroke-width="2.5"/>
<line x1="389.5" y1="1013" x2="876.5" y2="1013" stroke="#111" stroke-width="1.5"/>
<line x1="389.5" y1="1035.5" x2="876.5" y2="1035.5" stroke="#111" stroke-width="1.5"/>
<line x1="420" y1="1013" x2="420" y2="1035.5" stroke="#111" stroke-width="1.5"/>
<line x1="467" y1="1013" x2="467" y2="1035.5" stroke="#111" stroke-width="1.5"/>
<line x1="829.5" y1="1013" x2="829.5" y2="1035.5" stroke="#111" stroke-width="1.5"/>
<rect x="704.5" y="1017.5" width="28.0" height="13.5" fill="#222"/>
<circle cx="711.6" cy="1024.2" r="6.2" fill="#fff" stroke="#111" stroke-width="0.9"/>
<circle cx="725.4" cy="1024.2" r="6.2" fill="#fff" stroke="#111" stroke-width="0.9"/>
<circle cx="711.6" cy="1024.2" r="4.4" fill="#fff" stroke="#111" stroke-width="0.9"/>
<circle cx="725.4" cy="1024.2" r="4.4" fill="#fff" stroke="#111" stroke-width="0.9"/>
<path d="M399,1090.5 L759.5,1090.5 L759.5,1035.5" fill="none" stroke="#111" stroke-width="1.5" />
<rect x="401" y="1037.5" width="52" height="53.5" fill="#fff" stroke="#111" stroke-width="1.5"/>
<line x1="401" y1="1090.7" x2="453" y2="1090.7" stroke="#111" stroke-width="2.8"/>
<line x1="445" y1="1093.3" x2="453" y2="1093.3" stroke="#111" stroke-width="1.6"/>
<rect x="457" y="1037.5" width="49" height="53.5" fill="#fff" stroke="#111" stroke-width="1.5"/>
<line x1="457" y1="1090.7" x2="506" y2="1090.7" stroke="#111" stroke-width="2.8"/>
<line x1="498" y1="1093.3" x2="506" y2="1093.3" stroke="#111" stroke-width="1.6"/>
<rect x="527.5" y="1045" width="33.5" height="38" fill="#fff" stroke="#111" stroke-width="1.5"/>
<circle cx="544" cy="1051" r="3.3" fill="none" stroke="#111" stroke-width="1.4"/>
<line x1="564" y1="1051" x2="587" y2="1051" stroke="#111" stroke-width="1.3"/>
<line x1="564" y1="1059.5" x2="587" y2="1059.5" stroke="#111" stroke-width="1.3"/>
<line x1="564" y1="1068" x2="587" y2="1068" stroke="#111" stroke-width="1.3"/>
<line x1="564" y1="1075.5" x2="587" y2="1075.5" stroke="#111" stroke-width="1.3"/>
<rect x="646" y="1040.5" width="56.5" height="45.5" fill="#fff" stroke="#111" stroke-width="1.5"/>
<circle cx="664" cy="1063" r="12.5" fill="none" stroke="#111" stroke-width="1.4"/>
<circle cx="664" cy="1063" r="8.3" fill="none" stroke="#111" stroke-width="1.4"/>
<circle cx="689" cy="1050" r="6" fill="none" stroke="#111" stroke-width="1.4"/>
<circle cx="689" cy="1074" r="6" fill="none" stroke="#111" stroke-width="1.4"/>
<rect x="671.5" y="1083.7" width="3.0" height="1.599999999999909" fill="#222"/>
<line x1="337" y1="1104" x2="399" y2="1104" stroke="#111" stroke-width="1.5"/>
<line x1="337" y1="1177" x2="450" y2="1177" stroke="#111" stroke-width="1.5"/>
<path d="M450,1280 L450,1177 L515.5,1177 L515.5,1280" fill="none" stroke="#111" stroke-width="1.5" />
<path d="M454,1280 L454,1186 L468,1186" fill="none" stroke="#111" stroke-width="1.5" />
<path d="M506,1280 L506,1200 L468,1200 L468,1186" fill="none" stroke="#111" stroke-width="1.5" />
<line x1="191" y1="1186" x2="450" y2="1186" stroke="#111" stroke-width="1.5"/>
<line x1="10" y1="1186" x2="167" y2="1186" stroke="#111" stroke-width="1.5"/>
<rect x="471" y="1182" width="29.5" height="13" fill="#222"/>
<rect x="473" y="1184" width="12" height="9" fill="#fff"/>
<line x1="474" y1="1192.5" x2="484.5" y2="1184.5" stroke="#111" stroke-width="1.6"/>
<circle cx="492.5" cy="1188.5" r="4.6" fill="#fff" stroke="#111" stroke-width="0.8"/>
<circle cx="492.5" cy="1188.5" r="2.8" fill="#fff" stroke="#111" stroke-width="0.8"/>
<line x1="480" y1="1200" x2="480" y2="1280" stroke="#111" stroke-width="2.6"/>
<line x1="484" y1="1200" x2="484" y2="1280" stroke="#111" stroke-width="1"/>
<line x1="459" y1="1203" x2="503" y2="1210" stroke="#111" stroke-width="1.7"/>
<line x1="459" y1="1213" x2="503" y2="1213.5" stroke="#111" stroke-width="1.7"/>
<line x1="459" y1="1226" x2="503" y2="1219" stroke="#111" stroke-width="1.7"/>
<line x1="459" y1="1241" x2="503" y2="1248" stroke="#111" stroke-width="1.7"/>
<line x1="459" y1="1269" x2="503" y2="1262" stroke="#111" stroke-width="1.7"/>
<rect x="-20" y="1218" width="187" height="82" fill="none" stroke="#111" stroke-width="1.5"/>
<line x1="140" y1="1218" x2="140" y2="1280" stroke="#111" stroke-width="1.5"/>
<rect x="191" y="1218" width="178" height="82" fill="none" stroke="#111" stroke-width="1.5"/>
<line x1="220" y1="1218" x2="220" y2="1280" stroke="#111" stroke-width="1.5"/>
<path d="M220,1218 L279,1277 L270,1286" fill="none" stroke="#111" stroke-width="1.3" />
<line x1="220" y1="1218" x2="246" y2="1283" stroke="#111" stroke-width="1.3"/>
<path d="M140,1218 L81,1277 L90,1286" fill="none" stroke="#111" stroke-width="1.3" />
<line x1="140" y1="1218" x2="114" y2="1283" stroke="#111" stroke-width="1.3"/>
<circle cx="732.5" cy="1329" r="116" fill="none" stroke="#111" stroke-width="1.4"/>
<rect x="710" y="1249" width="46" height="21" fill="#fff" stroke="#111" stroke-width="1.5" rx="4"/>
<line x1="710" y1="1254.5" x2="756" y2="1254.5" stroke="#111" stroke-width="1.1"/>
<rect x="673" y="1276" width="25" height="24" fill="#fff" stroke="#111" stroke-width="1.5" rx="4"/>
<rect x="768.5" y="1276" width="25.0" height="24" fill="#fff" stroke="#111" stroke-width="1.5" rx="4"/>
<rect x="694" y="1267.5" width="78.5" height="32.5" fill="#fff" stroke="#111" stroke-width="1.5" rx="2.5"/>
<line x1="876.5" y1="215" x2="876.5" y2="1280" stroke="#111" stroke-width="1.5"/>
<line x1="852.5" y1="538" x2="876.5" y2="538" stroke="#111" stroke-width="1.5"/>
<line x1="852.5" y1="585" x2="876.5" y2="585" stroke="#111" stroke-width="1.5"/>
<path d="M852.5,931 A76.25,74.5 0 0 0 776.25,1005.5" fill="none" stroke="#111" stroke-width="1.5" />
<rect x="776.25" y="1005.6" width="76.25" height="3.3999999999999773" fill="#fff" stroke="#111" stroke-width="1.1"/>
<line x1="776.25" y1="1013" x2="776.25" y2="1005.6" stroke="#111" stroke-width="1.1"/>
<rect x="852.5" y="1008.75" width="11.899999999999977" height="4.25" fill="#fff" stroke="#111" stroke-width="1.1"/>
<rect x="852.5" y="926.5" width="11.899999999999977" height="4.5" fill="#fff" stroke="#111" stroke-width="1.1"/>
<line x1="852.5" y1="926.5" x2="876.25" y2="926.5" stroke="#111" stroke-width="1.5"/>
<path d="M776.25,1043.75 A76.25,74 0 0 0 852.5,1117.5" fill="none" stroke="#111" stroke-width="1.5" />
<rect x="776.25" y="1040.6" width="76.25" height="3.150000000000091" fill="#fff" stroke="#111" stroke-width="1.1"/>
<line x1="776.25" y1="1035.6" x2="776.25" y2="1043.75" stroke="#111" stroke-width="1.1"/>
<rect x="852.5" y="1035.6" width="11.899999999999977" height="4.400000000000091" fill="#fff" stroke="#111" stroke-width="1.1"/>
<path d="M852.5,1280 L852.5,1120.5 L876.5,1120.5" fill="none" stroke="#111" stroke-width="1.5" />
<path d="M852.5,1117 L864,1117 L864,1120.5" fill="none" stroke="#111" stroke-width="1" />
<line x1="486" y1="14" x2="486" y2="190" stroke="#111" stroke-width="1.5"/>
<line x1="486" y1="25" x2="852.5" y2="25" stroke="#111" stroke-width="1.5"/>
<line x1="486" y1="190" x2="852.5" y2="190" stroke="#111" stroke-width="1.8"/>
<line x1="852.5" y1="14" x2="852.5" y2="215" stroke="#111" stroke-width="1.8"/>
<line x1="492.5" y1="25" x2="492.5" y2="190" stroke="#111" stroke-width="1.35"/>
<line x1="506.4" y1="25" x2="506.4" y2="190" stroke="#111" stroke-width="1.35"/>
<line x1="520.3" y1="25" x2="520.3" y2="190" stroke="#111" stroke-width="1.35"/>
<line x1="534.2" y1="25" x2="534.2" y2="190" stroke="#111" stroke-width="1.35"/>
<line x1="548.1" y1="25" x2="548.1" y2="190" stroke="#111" stroke-width="1.35"/>
<line x1="562.0" y1="25" x2="562.0" y2="190" stroke="#111" stroke-width="1.35"/>
<line x1="575.9" y1="25" x2="575.9" y2="190" stroke="#111" stroke-width="1.35"/>
<line x1="589.8" y1="25" x2="589.8" y2="190" stroke="#111" stroke-width="1.35"/>
<line x1="603.7" y1="25" x2="603.7" y2="190" stroke="#111" stroke-width="1.35"/>
<line x1="617.6" y1="25" x2="617.6" y2="190" stroke="#111" stroke-width="1.35"/>
<line x1="631.5" y1="25" x2="631.5" y2="190" stroke="#111" stroke-width="1.35"/>
<line x1="645.4" y1="25" x2="645.4" y2="190" stroke="#111" stroke-width="1.35"/>
<line x1="659.3" y1="25" x2="659.3" y2="190" stroke="#111" stroke-width="1.35"/>
<line x1="673.2" y1="25" x2="673.2" y2="190" stroke="#111" stroke-width="1.35"/>
<line x1="687.1" y1="25" x2="687.1" y2="190" stroke="#111" stroke-width="1.35"/>
<line x1="701.0" y1="25" x2="701.0" y2="190" stroke="#111" stroke-width="1.35"/>
<line x1="714.9" y1="25" x2="714.9" y2="190" stroke="#111" stroke-width="1.35"/>
<line x1="728.8" y1="25" x2="728.8" y2="190" stroke="#111" stroke-width="1.35"/>
<line x1="742.7" y1="25" x2="742.7" y2="190" stroke="#111" stroke-width="1.35"/>
<line x1="756.6" y1="25" x2="756.6" y2="190" stroke="#111" stroke-width="1.35"/>
<line x1="770.5" y1="25" x2="770.5" y2="190" stroke="#111" stroke-width="1.35"/>
<line x1="784.4" y1="25" x2="784.4" y2="190" stroke="#111" stroke-width="1.35"/>
<line x1="798.3" y1="25" x2="798.3" y2="190" stroke="#111" stroke-width="1.35"/>
<line x1="812.2" y1="25" x2="812.2" y2="190" stroke="#111" stroke-width="1.35"/>
<line x1="826.1" y1="25" x2="826.1" y2="190" stroke="#111" stroke-width="1.35"/>
<line x1="840.0" y1="25" x2="840.0" y2="190" stroke="#111" stroke-width="1.35"/>
<line x1="877" y1="14" x2="877" y2="190" stroke="#111" stroke-width="1.5"/>
<line x1="877" y1="25" x2="1242.5" y2="25" stroke="#111" stroke-width="1.5"/>
<line x1="877" y1="190" x2="1242.5" y2="190" stroke="#111" stroke-width="1.8"/>
<line x1="1242.5" y1="14" x2="1242.5" y2="190" stroke="#111" stroke-width="1.8"/>
<line x1="887.5" y1="25" x2="887.5" y2="190" stroke="#111" stroke-width="1.35"/>
<line x1="901.4" y1="25" x2="901.4" y2="190" stroke="#111" stroke-width="1.35"/>
<line x1="915.2" y1="25" x2="915.2" y2="190" stroke="#111" stroke-width="1.35"/>
<line x1="929.1" y1="25" x2="929.1" y2="190" stroke="#111" stroke-width="1.35"/>
<line x1="943.0" y1="25" x2="943.0" y2="190" stroke="#111" stroke-width="1.35"/>
<line x1="956.9" y1="25" x2="956.9" y2="190" stroke="#111" stroke-width="1.35"/>
<line x1="970.7" y1="25" x2="970.7" y2="190" stroke="#111" stroke-width="1.35"/>
<line x1="984.6" y1="25" x2="984.6" y2="190" stroke="#111" stroke-width="1.35"/>
<line x1="998.5" y1="25" x2="998.5" y2="190" stroke="#111" stroke-width="1.35"/>
<line x1="1012.3" y1="25" x2="1012.3" y2="190" stroke="#111" stroke-width="1.35"/>
<line x1="1026.2" y1="25" x2="1026.2" y2="190" stroke="#111" stroke-width="1.35"/>
<line x1="1040.1" y1="25" x2="1040.1" y2="190" stroke="#111" stroke-width="1.35"/>
<line x1="1053.9" y1="25" x2="1053.9" y2="190" stroke="#111" stroke-width="1.35"/>
<line x1="1067.8" y1="25" x2="1067.8" y2="190" stroke="#111" stroke-width="1.35"/>
<line x1="1081.7" y1="25" x2="1081.7" y2="190" stroke="#111" stroke-width="1.35"/>
<line x1="1095.5" y1="25" x2="1095.5" y2="190" stroke="#111" stroke-width="1.35"/>
<line x1="1109.4" y1="25" x2="1109.4" y2="190" stroke="#111" stroke-width="1.35"/>
<line x1="1123.3" y1="25" x2="1123.3" y2="190" stroke="#111" stroke-width="1.35"/>
<line x1="1137.2" y1="25" x2="1137.2" y2="190" stroke="#111" stroke-width="1.35"/>
<line x1="1151.0" y1="25" x2="1151.0" y2="190" stroke="#111" stroke-width="1.35"/>
<line x1="1164.9" y1="25" x2="1164.9" y2="190" stroke="#111" stroke-width="1.35"/>
<line x1="1178.8" y1="25" x2="1178.8" y2="190" stroke="#111" stroke-width="1.35"/>
<line x1="1192.6" y1="25" x2="1192.6" y2="190" stroke="#111" stroke-width="1.35"/>
<line x1="1206.5" y1="25" x2="1206.5" y2="190" stroke="#111" stroke-width="1.35"/>
<line x1="1220.4" y1="25" x2="1220.4" y2="190" stroke="#111" stroke-width="1.35"/>
<line x1="1234.2" y1="25" x2="1234.2" y2="190" stroke="#111" stroke-width="1.35"/>
<line x1="852.5" y1="61" x2="877" y2="61" stroke="#111" stroke-width="1.5"/>
<g transform="translate(757.5,107.3) rotate(45)">
<path d="M42.3,-20.3 L58,-20.3 A21.3,21.3 0 1 1 58,20.3 L42.3,20.3 Z" fill="#fff" stroke="#111" stroke-width="1.5" />
<path d="M59.1,-17.7 A18.5,18.5 0 1 1 59.1,17.7" fill="none" stroke="#111" stroke-width="1.1" />
<line x1="59.1" y1="-17.7" x2="56.5" y2="-20.3" stroke="#111" stroke-width="1.1"/>
<line x1="59.1" y1="17.7" x2="56.5" y2="20.3" stroke="#111" stroke-width="1.1"/>
</g>
<g transform="translate(757.5,107.3) rotate(135)">
<path d="M42.3,-20.3 L58,-20.3 A21.3,21.3 0 1 1 58,20.3 L42.3,20.3 Z" fill="#fff" stroke="#111" stroke-width="1.5" />
<path d="M59.1,-17.7 A18.5,18.5 0 1 1 59.1,17.7" fill="none" stroke="#111" stroke-width="1.1" />
<line x1="59.1" y1="-17.7" x2="56.5" y2="-20.3" stroke="#111" stroke-width="1.1"/>
<line x1="59.1" y1="17.7" x2="56.5" y2="20.3" stroke="#111" stroke-width="1.1"/>
</g>
<g transform="translate(757.5,107.3) rotate(225)">
<path d="M42.3,-20.3 L58,-20.3 A21.3,21.3 0 1 1 58,20.3 L42.3,20.3 Z" fill="#fff" stroke="#111" stroke-width="1.5" />
<path d="M59.1,-17.7 A18.5,18.5 0 1 1 59.1,17.7" fill="none" stroke="#111" stroke-width="1.1" />
<line x1="59.1" y1="-17.7" x2="56.5" y2="-20.3" stroke="#111" stroke-width="1.1"/>
<line x1="59.1" y1="17.7" x2="56.5" y2="20.3" stroke="#111" stroke-width="1.1"/>
</g>
<g transform="translate(757.5,107.3) rotate(315)">
<path d="M42.3,-20.3 L58,-20.3 A21.3,21.3 0 1 1 58,20.3 L42.3,20.3 Z" fill="#fff" stroke="#111" stroke-width="1.5" />
<path d="M59.1,-17.7 A18.5,18.5 0 1 1 59.1,17.7" fill="none" stroke="#111" stroke-width="1.1" />
<line x1="59.1" y1="-17.7" x2="56.5" y2="-20.3" stroke="#111" stroke-width="1.1"/>
<line x1="59.1" y1="17.7" x2="56.5" y2="20.3" stroke="#111" stroke-width="1.1"/>
</g>
<circle cx="757.5" cy="107.3" r="37.6" fill="#fff" stroke="#111" stroke-width="1.7"/>
<g transform="translate(1141,107.3) rotate(45)">
<path d="M42.3,-20.3 L58,-20.3 A21.3,21.3 0 1 1 58,20.3 L42.3,20.3 Z" fill="#fff" stroke="#111" stroke-width="1.5" />
<path d="M59.1,-17.7 A18.5,18.5 0 1 1 59.1,17.7" fill="none" stroke="#111" stroke-width="1.1" />
<line x1="59.1" y1="-17.7" x2="56.5" y2="-20.3" stroke="#111" stroke-width="1.1"/>
<line x1="59.1" y1="17.7" x2="56.5" y2="20.3" stroke="#111" stroke-width="1.1"/>
</g>
<g transform="translate(1141,107.3) rotate(135)">
<path d="M42.3,-20.3 L58,-20.3 A21.3,21.3 0 1 1 58,20.3 L42.3,20.3 Z" fill="#fff" stroke="#111" stroke-width="1.5" />
<path d="M59.1,-17.7 A18.5,18.5 0 1 1 59.1,17.7" fill="none" stroke="#111" stroke-width="1.1" />
<line x1="59.1" y1="-17.7" x2="56.5" y2="-20.3" stroke="#111" stroke-width="1.1"/>
<line x1="59.1" y1="17.7" x2="56.5" y2="20.3" stroke="#111" stroke-width="1.1"/>
</g>
<g transform="translate(1141,107.3) rotate(225)">
<path d="M42.3,-20.3 L58,-20.3 A21.3,21.3 0 1 1 58,20.3 L42.3,20.3 Z" fill="#fff" stroke="#111" stroke-width="1.5" />
<path d="M59.1,-17.7 A18.5,18.5 0 1 1 59.1,17.7" fill="none" stroke="#111" stroke-width="1.1" />
<line x1="59.1" y1="-17.7" x2="56.5" y2="-20.3" stroke="#111" stroke-width="1.1"/>
<line x1="59.1" y1="17.7" x2="56.5" y2="20.3" stroke="#111" stroke-width="1.1"/>
</g>
<g transform="translate(1141,107.3) rotate(315)">
<path d="M42.3,-20.3 L58,-20.3 A21.3,21.3 0 1 1 58,20.3 L42.3,20.3 Z" fill="#fff" stroke="#111" stroke-width="1.5" />
<path d="M59.1,-17.7 A18.5,18.5 0 1 1 59.1,17.7" fill="none" stroke="#111" stroke-width="1.1" />
<line x1="59.1" y1="-17.7" x2="56.5" y2="-20.3" stroke="#111" stroke-width="1.1"/>
<line x1="59.1" y1="17.7" x2="56.5" y2="20.3" stroke="#111" stroke-width="1.1"/>
</g>
<circle cx="1141" cy="107.3" r="37.6" fill="#fff" stroke="#111" stroke-width="1.7"/>
<rect x="949" y="190" width="232" height="24" fill="#fff" stroke="#111" stroke-width="1.3"/>
<rect x="952" y="206" width="226" height="8" fill="#fff" stroke="#111" stroke-width="1.2"/>
<line x1="955.7" y1="206" x2="955.7" y2="214" stroke="#111" stroke-width="1.1"/>
<line x1="1062.8" y1="206" x2="1062.8" y2="214" stroke="#111" stroke-width="1.1"/>
<line x1="1067.2" y1="206" x2="1067.2" y2="214" stroke="#111" stroke-width="1.1"/>
<line x1="1174.3" y1="206" x2="1174.3" y2="214" stroke="#111" stroke-width="1.1"/>
<line x1="955.7" y1="210.5" x2="1062.8" y2="210.5" stroke="#111" stroke-width="0.9"/>
<line x1="955.7" y1="208.6" x2="1062.8" y2="208.6" stroke="#111" stroke-width="0.9"/>
<line x1="1067.2" y1="207.6" x2="1170" y2="207.6" stroke="#111" stroke-width="2.4"/>
<line x1="1067.2" y1="211" x2="1174.3" y2="211" stroke="#111" stroke-width="0.9"/>
<line x1="877" y1="215" x2="1256" y2="215" stroke="#111" stroke-width="1.5"/>
<line x1="1242.5" y1="38.5" x2="1387.5" y2="38.5" stroke="#111" stroke-width="1.5"/>
<line x1="1319" y1="14" x2="1319" y2="38.5" stroke="#111" stroke-width="1.5"/>
<line x1="1364" y1="14" x2="1364" y2="38.5" stroke="#111" stroke-width="1.5"/>
<line x1="1380" y1="14" x2="1380" y2="38.5" stroke="#111" stroke-width="1.5"/>
<rect x="1382" y="30" width="10" height="8.5" fill="#fff" stroke="#111" stroke-width="1"/>
<rect x="1265" y="39" width="56" height="231" fill="#fff" stroke="#111" stroke-width="1.5"/>
<rect x="1265" y="39" width="51" height="227" fill="#fff" stroke="#111" stroke-width="1.3"/>
<line x1="1291" y1="39" x2="1291" y2="266" stroke="#111" stroke-width="2.6"/>
<line x1="1270" y1="48" x2="1312" y2="54" stroke="#111" stroke-width="1.7"/>
<line x1="1270" y1="62" x2="1312" y2="57" stroke="#111" stroke-width="1.7"/>
<line x1="1270" y1="74" x2="1312" y2="69" stroke="#111" stroke-width="1.7"/>
<line x1="1270" y1="81" x2="1312" y2="88" stroke="#111" stroke-width="1.7"/>
<line x1="1270" y1="95" x2="1312" y2="101" stroke="#111" stroke-width="1.7"/>
<line x1="1270" y1="108" x2="1312" y2="101" stroke="#111" stroke-width="1.7"/>
<line x1="1270" y1="118" x2="1312" y2="124" stroke="#111" stroke-width="1.7"/>
<line x1="1270" y1="136" x2="1312" y2="130" stroke="#111" stroke-width="1.7"/>
<line x1="1270" y1="143" x2="1312" y2="149" stroke="#111" stroke-width="1.7"/>
<line x1="1270" y1="150" x2="1312" y2="142" stroke="#111" stroke-width="1.7"/>
<line x1="1270" y1="160" x2="1312" y2="166" stroke="#111" stroke-width="1.7"/>
<line x1="1270" y1="178" x2="1312" y2="171" stroke="#111" stroke-width="1.7"/>
<line x1="1270" y1="186" x2="1312" y2="192" stroke="#111" stroke-width="1.7"/>
<line x1="1270" y1="197" x2="1312" y2="190" stroke="#111" stroke-width="1.7"/>
<line x1="1270" y1="205" x2="1312" y2="212" stroke="#111" stroke-width="1.7"/>
<line x1="1270" y1="229" x2="1312" y2="222" stroke="#111" stroke-width="1.7"/>
<line x1="1270" y1="236" x2="1312" y2="243" stroke="#111" stroke-width="1.7"/>
<line x1="1270" y1="247" x2="1312" y2="253" stroke="#111" stroke-width="1.7"/>
<line x1="1270" y1="251" x2="1312" y2="258" stroke="#111" stroke-width="1.7"/>
<line x1="1270" y1="263" x2="1312" y2="257" stroke="#111" stroke-width="1.7"/>
<path d="M1321,270 L1321,278 L1265,278 L1265,404" fill="none" stroke="#111" stroke-width="1.5" />
<rect x="879.5" y="222.5" width="79.5" height="232.0" fill="#fff" stroke="#111" stroke-width="1.5"/>
<line x1="893" y1="222.5" x2="893" y2="454.5" stroke="#111" stroke-width="1.5"/>
<line x1="893" y1="236" x2="959" y2="236" stroke="#111" stroke-width="1.5"/>
<line x1="893" y1="304" x2="959" y2="304" stroke="#111" stroke-width="1.5"/>
<line x1="893" y1="372.5" x2="959" y2="372.5" stroke="#111" stroke-width="1.5"/>
<line x1="893" y1="441" x2="959" y2="441" stroke="#111" stroke-width="1.5"/>
<rect x="911" y="223" width="278.5" height="231.5" fill="none" stroke="#c4c4c4" stroke-width="1"/>
<circle cx="1046" cy="323" r="20" fill="#fff" stroke="#111" stroke-width="1.6"/>
<circle cx="1012" cy="308" r="26" fill="#fff" stroke="#111" stroke-width="1.6"/>
<circle cx="1015" cy="356" r="31" fill="#fff" stroke="#111" stroke-width="1.6"/>
<rect x="1222.5" y="215" width="33.5" height="184" fill="#fff" stroke="#111" stroke-width="1.5"/>
<rect x="1256" y="215" width="8.5" height="189" fill="#fff" stroke="#111" stroke-width="1.5"/>
<rect x="1240.5" y="240" width="6.5" height="132.5" fill="#fff" stroke="#111" stroke-width="1.2"/>
<line x1="1248.5" y1="250" x2="1248.5" y2="362" stroke="#111" stroke-width="2.4"/>
<path d="M1265,404 A67,67 0 0 1 1332,469" fill="none" stroke="#111" stroke-width="1.4" />
<rect x="1265" y="469" width="67" height="3.5" fill="#fff" stroke="#111" stroke-width="1.1"/>
<rect x="1255.5" y="471" width="9.5" height="79" fill="#fff" stroke="#111" stroke-width="1.5"/>
<line x1="1265" y1="481" x2="1387.5" y2="481" stroke="#111" stroke-width="1.5"/>
<line x1="1265" y1="492.5" x2="1387.5" y2="492.5" stroke="#111" stroke-width="1.5"/>
<rect x="1277" y="492.5" width="65.5" height="40.5" fill="#fff" stroke="#111" stroke-width="1.5"/>
<rect x="1289.5" y="502" width="41.5" height="22" fill="#fff" stroke="#111" stroke-width="1.5"/>
<circle cx="1309" cy="507.5" r="1.6" fill="#222" stroke="#111" stroke-width="1"/>
<path d="M1364,492.5 L1364,524 A24,24 0 0 0 1388,548" fill="#fff" stroke="#111" stroke-width="1.5" />
<path d="M1265,550 A66,66 0 0 1 1331,615" fill="none" stroke="#111" stroke-width="1.4" />
<rect x="1265" y="614" width="66" height="3.5" fill="#fff" stroke="#111" stroke-width="1.1"/>
<rect x="1255.5" y="399" width="9.5" height="5" fill="#fff" stroke="#111" stroke-width="1"/>
<rect x="1255.5" y="545" width="9.5" height="5" fill="#fff" stroke="#111" stroke-width="1"/>
<rect x="1255.5" y="617.5" width="144.5" height="69.5" fill="#fff" stroke="#111" stroke-width="1.5"/>
<rect x="1265" y="630" width="135" height="51" fill="#fff" stroke="#111" stroke-width="1.3"/>
<line x1="1265" y1="655.5" x2="1400" y2="655.5" stroke="#111" stroke-width="2.6"/>
<line x1="1270" y1="634" x2="1276" y2="678" stroke="#111" stroke-width="1.7"/>
<line x1="1290" y1="634" x2="1284" y2="678" stroke="#111" stroke-width="1.7"/>
<line x1="1293" y1="634" x2="1287" y2="678" stroke="#111" stroke-width="1.7"/>
<line x1="1299" y1="634" x2="1297" y2="678" stroke="#111" stroke-width="1.7"/>
<line x1="1303" y1="634" x2="1309" y2="678" stroke="#111" stroke-width="1.7"/>
<line x1="1331" y1="634" x2="1325" y2="678" stroke="#111" stroke-width="1.7"/>
<line x1="1346" y1="634" x2="1352" y2="678" stroke="#111" stroke-width="1.7"/>
<line x1="1381" y1="634" x2="1373" y2="678" stroke="#111" stroke-width="1.7"/>
<line x1="1384" y1="634" x2="1390" y2="678" stroke="#111" stroke-width="1.7"/>
<rect x="1244.5" y="631" width="11.0" height="8.5" fill="#fff" stroke="#111" stroke-width="1.1"/>
<line x1="1249" y1="631" x2="1249" y2="639.5" stroke="#111" stroke-width="1"/>
<rect x="1176" y="639" width="4" height="67" fill="#fff" stroke="#111" stroke-width="1.1"/>
<path d="M1180.5,707 A66,66 0 0 0 1245,640" fill="none" stroke="#111" stroke-width="1.4" />
<rect x="1172.5" y="630" width="4.5" height="9" fill="#fff" stroke="#111" stroke-width="1"/>
<circle cx="992.5" cy="671" r="116" fill="none" stroke="#111" stroke-width="1.4"/>
<rect x="968.5" y="587.0" width="47.5" height="24.5" fill="#fff" stroke="#111" stroke-width="1.5" rx="4"/>
<line x1="968.5" y1="592.5" x2="1016" y2="592.5" stroke="#111" stroke-width="1.1"/>
<rect x="968.5" y="735" width="47.5" height="22.5" fill="#fff" stroke="#111" stroke-width="1.5" rx="4"/>
<line x1="968.5" y1="752.5" x2="1016" y2="752.5" stroke="#111" stroke-width="1.1"/>
<rect x="931.5" y="617.5" width="25.0" height="45.5" fill="#fff" stroke="#111" stroke-width="1.5" rx="4"/>
<line x1="936.5" y1="617.5" x2="936.5" y2="663.0" stroke="#111" stroke-width="1.1"/>
<rect x="1028" y="617.5" width="25" height="45.5" fill="#fff" stroke="#111" stroke-width="1.5" rx="4"/>
<line x1="1048" y1="617.5" x2="1048" y2="663.0" stroke="#111" stroke-width="1.1"/>
<rect x="931.5" y="681.5" width="25.0" height="45.5" fill="#fff" stroke="#111" stroke-width="1.5" rx="4"/>
<line x1="936.5" y1="681.5" x2="936.5" y2="727.0" stroke="#111" stroke-width="1.1"/>
<rect x="1028" y="681.5" width="25" height="45.5" fill="#fff" stroke="#111" stroke-width="1.5" rx="4"/>
<line x1="1048" y1="681.5" x2="1048" y2="727.0" stroke="#111" stroke-width="1.1"/>
<rect x="952.5" y="607.5" width="79.5" height="131.5" fill="#fff" stroke="#111" stroke-width="1.5" rx="2.5"/>
<line x1="1107.5" y1="526" x2="1107.5" y2="887.5" stroke="#111" stroke-width="1.5"/>
<rect x="1164" y="526" width="8.5" height="419" fill="#fff" stroke="#111" stroke-width="1.5"/>
<rect x="1107.5" y="529" width="52.5" height="51" fill="#fff" stroke="#111" stroke-width="1.5"/>
<line x1="1107.0" y1="529" x2="1107.0" y2="580" stroke="#111" stroke-width="2.2"/>
<line x1="1102.5" y1="570" x2="1102.5" y2="580" stroke="#111" stroke-width="1"/>
<line x1="1102.5" y1="580" x2="1107.5" y2="580" stroke="#111" stroke-width="1"/>
<rect x="1107.5" y="583" width="52.5" height="50" fill="#fff" stroke="#111" stroke-width="1.5"/>
<line x1="1107.0" y1="583" x2="1107.0" y2="633" stroke="#111" stroke-width="2.2"/>
<line x1="1102.5" y1="623" x2="1102.5" y2="633" stroke="#111" stroke-width="1"/>
<line x1="1102.5" y1="633" x2="1107.5" y2="633" stroke="#111" stroke-width="1"/>
<rect x="1114.5" y="653" width="38.5" height="35" fill="#fff" stroke="#111" stroke-width="1.5"/>
<circle cx="1147" cy="671" r="3.3" fill="none" stroke="#111" stroke-width="1.4"/>
<line x1="1121" y1="691" x2="1121" y2="714.5" stroke="#111" stroke-width="1.3"/>
<line x1="1129" y1="691" x2="1129" y2="714.5" stroke="#111" stroke-width="1.3"/>
<line x1="1138" y1="691" x2="1138" y2="714.5" stroke="#111" stroke-width="1.3"/>
<line x1="1146" y1="691" x2="1146" y2="714.5" stroke="#111" stroke-width="1.3"/>
<rect x="1111" y="773" width="46.5" height="56" fill="#fff" stroke="#111" stroke-width="1.5"/>
<circle cx="1134.5" cy="791" r="13.5" fill="none" stroke="#111" stroke-width="1.4"/>
<circle cx="1134.5" cy="791" r="9" fill="none" stroke="#111" stroke-width="1.4"/>
<circle cx="1123" cy="816" r="6" fill="none" stroke="#111" stroke-width="1.4"/>
<circle cx="1147" cy="816" r="6" fill="none" stroke="#111" stroke-width="1.4"/>
<rect x="1112.5" y="799" width="1.5" height="3" fill="#222"/>
<path d="M961.25,899.4 L996.25,899.4 L996.25,887.2 L1164,887.2" fill="none" stroke="#111" stroke-width="1.5" />
<rect x="1005" y="891" width="159" height="64" fill="#fff" stroke="#111" stroke-width="1.5"/>
<rect x="1011" y="895" width="51" height="57" fill="#fff" stroke="#111" stroke-width="1.6"/>
<line x1="1011" y1="892.5" x2="1062" y2="892.5" stroke="#111" stroke-width="1"/>
<line x1="1011" y1="890" x2="1062" y2="890" stroke="#111" stroke-width="1"/>
<circle cx="1036" cy="925" r="23" fill="#fff" stroke="#111" stroke-width="1.5"/>
<text transform="translate(1019.5,924.5) scale(0.92,1)" font-size="8" text-anchor="start" fill="#111" font-weight="bold" stroke="#111" stroke-width="0.4">Lavadora</text>
<text transform="translate(1019.5,934.5) scale(0.92,1)" font-size="8" text-anchor="start" fill="#111" font-weight="bold" stroke="#111" stroke-width="0.4">Termo/</text>
<line x1="1172.5" y1="945" x2="1350" y2="945" stroke="#111" stroke-width="1.5"/>
<line x1="1350" y1="945" x2="1350" y2="969" stroke="#111" stroke-width="1.5"/>
<rect x="1177" y="729.5" width="37" height="37.5" fill="#fff" stroke="#111" stroke-width="1.5" rx="4"/>
<rect x="1177" y="901" width="37" height="36.5" fill="#fff" stroke="#111" stroke-width="1.5" rx="4"/>
<rect x="1177" y="772" width="176" height="124" fill="#fff" stroke="#111" stroke-width="1.5"/>
<line x1="1204.5" y1="772" x2="1204.5" y2="896" stroke="#111" stroke-width="1.5"/>
<line x1="1177" y1="834" x2="1204.5" y2="834" stroke="#111" stroke-width="1.5"/>
<path d="M1204.5,834 L1231.0,772.5 L1248.0,790.0 Z" fill="none" stroke="#111" stroke-width="1.3" />
<line x1="1204.5" y1="834" x2="1235.5" y2="777.4" stroke="#111" stroke-width="1.1"/>
<path d="M1204.5,834 L1231.0,895.5 L1248.0,878.0 Z" fill="none" stroke="#111" stroke-width="1.3" />
<line x1="1204.5" y1="834" x2="1235.5" y2="890.6" stroke="#111" stroke-width="1.1"/>
<rect x="1331" y="945" width="15" height="15.5" fill="#fff" stroke="#111" stroke-width="1.8"/>
<line x1="1332" y1="946" x2="1345" y2="959.5" stroke="#111" stroke-width="1.6"/>
<rect x="880.6" y="822.75" width="3.7999999999999545" height="76.64999999999998" fill="#fff" stroke="#111" stroke-width="1.1"/>
<path d="M882,822.75 A75.5,76.6 0 0 1 957.5,899.4" fill="none" stroke="#111" stroke-width="1.5" />
<rect x="876.6" y="899.4" width="4.649999999999977" height="10.600000000000023" fill="#fff" stroke="#111" stroke-width="1.1"/>
<rect x="957" y="899.4" width="4.25" height="10.600000000000023" fill="#fff" stroke="#111" stroke-width="1.1"/>
<line x1="961.25" y1="899.4" x2="961.25" y2="921.25" stroke="#111" stroke-width="1.5"/>
<path d="M876.6,921.4 L987.5,921.4 L987.5,969 L1387.5,969" fill="none" stroke="#111" stroke-width="1.5" />
<rect x="917.5" y="921.4" width="31.899999999999977" height="36.60000000000002" fill="#fff" stroke="#111" stroke-width="1.5"/>
<rect x="876.6" y="951.25" width="30.799999999999955" height="37.35000000000002" fill="#fff" stroke="#111" stroke-width="1.5"/>
<rect x="877" y="1060" width="30" height="35.5" fill="#fff" stroke="#111" stroke-width="1.5"/>
<rect x="919" y="1089" width="30" height="36" fill="#fff" stroke="#111" stroke-width="1.5"/>
<path d="M877,1125 L987.5,1125 L987.5,1080 L1387.5,1080" fill="none" stroke="#111" stroke-width="1.5" />
<line x1="1172.5" y1="1102.5" x2="1387.5" y2="1102.5" stroke="#111" stroke-width="1.5"/>
<rect x="880.6" y="1149.5" width="3.7999999999999545" height="76.0" fill="#fff" stroke="#111" stroke-width="1.1"/>
<path d="M882,1225.5 A75.5,76 0 0 0 957.5,1149.5" fill="none" stroke="#111" stroke-width="1.5" />
<rect x="957" y="1138.5" width="4.25" height="11.0" fill="#fff" stroke="#111" stroke-width="1.1"/>
<line x1="961.25" y1="1125" x2="961.25" y2="1149.5" stroke="#111" stroke-width="1.5"/>
<rect x="876.6" y="1138.5" width="4.649999999999977" height="11.0" fill="#fff" stroke="#111" stroke-width="1.1"/>
<path d="M961.25,1149.5 L996.25,1149.5 L996.25,1160 L1164,1160" fill="none" stroke="#111" stroke-width="1.5" />
<rect x="1005" y="1093" width="159" height="63" fill="#fff" stroke="#111" stroke-width="1.5"/>
<rect x="1011" y="1097" width="51" height="54" fill="#fff" stroke="#111" stroke-width="1.6"/>
<line x1="1011" y1="1153.5" x2="1062" y2="1153.5" stroke="#111" stroke-width="1"/>
<line x1="1011" y1="1156" x2="1062" y2="1156" stroke="#111" stroke-width="1"/>
<circle cx="1036" cy="1123" r="23" fill="#fff" stroke="#111" stroke-width="1.5"/>
<text transform="translate(1019.5,1122.5) scale(0.92,1)" font-size="8" text-anchor="start" fill="#111" font-weight="bold" stroke="#111" stroke-width="0.4">Termo/</text>
<text transform="translate(1019.5,1132.5) scale(0.92,1)" font-size="8" text-anchor="start" fill="#111" font-weight="bold" stroke="#111" stroke-width="0.4">Lavadora</text>
<line x1="1107.5" y1="1160" x2="1107.5" y2="1280" stroke="#111" stroke-width="1.5"/>
<line x1="1164" y1="1156" x2="1164" y2="1280" stroke="#111" stroke-width="1.5"/>
<line x1="1172.5" y1="1102.5" x2="1172.5" y2="1280" stroke="#111" stroke-width="1.5"/>
<rect x="1107.5" y="1163" width="52.5" height="51.5" fill="#fff" stroke="#111" stroke-width="1.5"/>
<line x1="1107.0" y1="1163" x2="1107.0" y2="1214.5" stroke="#111" stroke-width="2.2"/>
<line x1="1102.5" y1="1204.5" x2="1102.5" y2="1214.5" stroke="#111" stroke-width="1"/>
<line x1="1102.5" y1="1214.5" x2="1107.5" y2="1214.5" stroke="#111" stroke-width="1"/>
<rect x="1107.5" y="1218" width="52.5" height="50" fill="#fff" stroke="#111" stroke-width="1.5"/>
<line x1="1107.0" y1="1218" x2="1107.0" y2="1268" stroke="#111" stroke-width="2.2"/>
<line x1="1102.5" y1="1258" x2="1102.5" y2="1268" stroke="#111" stroke-width="1"/>
<line x1="1102.5" y1="1268" x2="1107.5" y2="1268" stroke="#111" stroke-width="1"/>
<rect x="1177" y="1113" width="37" height="36" fill="#fff" stroke="#111" stroke-width="1.5" rx="4"/>
<rect x="1177" y="1154" width="176" height="146" fill="#fff" stroke="#111" stroke-width="1.5"/>
<line x1="1204.5" y1="1154" x2="1204.5" y2="1280" stroke="#111" stroke-width="1.5"/>
<line x1="1177" y1="1217" x2="1204.5" y2="1217" stroke="#111" stroke-width="1.5"/>
<path d="M1204.5,1217 L1231.0,1155 L1248.0,1172.5 Z" fill="none" stroke="#111" stroke-width="1.3" />
<line x1="1204.5" y1="1217" x2="1235.5" y2="1159.9" stroke="#111" stroke-width="1.1"/>
<path d="M1204.5,1217 L1231.0,1279 L1248.0,1261.5 Z" fill="none" stroke="#111" stroke-width="1.3" />
<line x1="1204.5" y1="1217" x2="1235.5" y2="1274.1" stroke="#111" stroke-width="1.1"/>
<circle cx="991" cy="1377" r="116" fill="none" stroke="#111" stroke-width="1.4"/>
</g>
<line x1="10" y1="0" x2="10" y2="1280" stroke="#111" stroke-width="1.5"/>
<line x1="1387.5" y1="0" x2="1387.5" y2="614" stroke="#b9a3b8" stroke-width="1.2"/>
<line x1="1387.5" y1="945" x2="1387.5" y2="1280" stroke="#8f8790" stroke-width="1.3"/>
<line x1="1458" y1="0" x2="1458" y2="486" stroke="#111" stroke-width="1.4"/>
<line x1="1907" y1="0" x2="1907" y2="1280" stroke="#111" stroke-width="1.4"/>
<line x1="1458" y1="486" x2="1907" y2="486" stroke="#111" stroke-width="1.4"/>
<line x1="1387.5" y1="614" x2="1907" y2="614" stroke="#111" stroke-width="1.4"/>
<line x1="1388.4" y1="614" x2="1388.4" y2="945" stroke="#111" stroke-width="1.4"/>
<line x1="1387.5" y1="945.5" x2="1907" y2="945.5" stroke="#111" stroke-width="1.6"/>
<line x1="1457.5" y1="945.5" x2="1457.5" y2="950" stroke="#111" stroke-width="1.2"/>
<line x1="1492.8" y1="945.5" x2="1492.8" y2="950" stroke="#111" stroke-width="1.2"/>
<line x1="1802" y1="945.5" x2="1802" y2="950" stroke="#111" stroke-width="1.2"/>
<line x1="1860" y1="945.5" x2="1860" y2="950" stroke="#111" stroke-width="1.2"/>
<line x1="1902" y1="966.5" x2="1907" y2="966.5" stroke="#111" stroke-width="1.2"/>
<line x1="1902" y1="986" x2="1907" y2="986" stroke="#111" stroke-width="1.2"/>
<line x1="1902" y1="1005" x2="1907" y2="1005" stroke="#111" stroke-width="1.2"/>
<line x1="1902" y1="1025" x2="1907" y2="1025" stroke="#111" stroke-width="1.2"/>
<line x1="1902" y1="1045" x2="1907" y2="1045" stroke="#111" stroke-width="1.2"/>
<line x1="1902" y1="1065" x2="1907" y2="1065" stroke="#111" stroke-width="1.2"/>
<line x1="1902" y1="1084" x2="1907" y2="1084" stroke="#111" stroke-width="1.2"/>
<line x1="1902" y1="1104" x2="1907" y2="1104" stroke="#111" stroke-width="1.2"/>
<line x1="1902" y1="1124" x2="1907" y2="1124" stroke="#111" stroke-width="1.2"/>
<line x1="1902" y1="1222" x2="1907" y2="1222" stroke="#111" stroke-width="1.2"/>
<line x1="1480.5" y1="23" x2="1884.5" y2="23" stroke="#111" stroke-width="1.4"/>
<line x1="1480.5" y1="58" x2="1884.5" y2="58" stroke="#111" stroke-width="1.4"/>
<line x1="1480.5" y1="93" x2="1884.5" y2="93" stroke="#111" stroke-width="1.4"/>
<line x1="1480.5" y1="127" x2="1884.5" y2="127" stroke="#111" stroke-width="1.4"/>
<line x1="1480.5" y1="161" x2="1884.5" y2="161" stroke="#111" stroke-width="1.4"/>
<line x1="1480.5" y1="195" x2="1884.5" y2="195" stroke="#111" stroke-width="1.4"/>
<line x1="1480.5" y1="229.5" x2="1884.5" y2="229.5" stroke="#111" stroke-width="1.4"/>
<line x1="1480.5" y1="264" x2="1884.5" y2="264" stroke="#111" stroke-width="1.4"/>
<line x1="1480.5" y1="298" x2="1884.5" y2="298" stroke="#111" stroke-width="1.4"/>
<line x1="1480.5" y1="332.5" x2="1884.5" y2="332.5" stroke="#111" stroke-width="1.4"/>
<line x1="1480.5" y1="367" x2="1884.5" y2="367" stroke="#111" stroke-width="1.4"/>
<line x1="1480.5" y1="401" x2="1884.5" y2="401" stroke="#111" stroke-width="1.4"/>
<line x1="1480.5" y1="23" x2="1480.5" y2="401" stroke="#111" stroke-width="1.4"/>
<line x1="1884.5" y1="23" x2="1884.5" y2="401" stroke="#111" stroke-width="1.4"/>
<line x1="1720.5" y1="58" x2="1720.5" y2="401" stroke="#111" stroke-width="1.4"/>
<rect x="1480" y="264.5" width="404.5" height="33.5" fill="none" stroke="#111" stroke-width="3.2"/>
<rect x="1480" y="367.5" width="404.5" height="33.5" fill="none" stroke="#111" stroke-width="3.2"/>
<text x="1525" y="51.3" font-size="22.6" textLength="340" lengthAdjust="spacingAndGlyphs" fill="#1a1a1a" stroke="#1a1a1a" stroke-width="0.3">APPARTMENT 1-3-M</text>
<text x="1526" y="115" font-size="20.5" textLength="168" lengthAdjust="spacingAndGlyphs" fill="#1a1a1a" stroke="#1a1a1a" stroke-width="0.45">Salon- Kitchen</text>
<text x="1740.0" y="115" font-size="20.5" textLength="102.5" lengthAdjust="spacingAndGlyphs" fill="#1a1a1a" stroke="#1a1a1a" stroke-width="0.45">36,17 m²</text>
<text x="1526" y="149.5" font-size="20.5" textLength="121" lengthAdjust="spacingAndGlyphs" fill="#1a1a1a" stroke="#1a1a1a" stroke-width="0.45">Circulation</text>
<text x="1756.0" y="149.5" font-size="20.5" textLength="86.5" lengthAdjust="spacingAndGlyphs" fill="#1a1a1a" stroke="#1a1a1a" stroke-width="0.45">1,89 m²</text>
<text x="1526" y="184" font-size="20.5" textLength="125" lengthAdjust="spacingAndGlyphs" fill="#1a1a1a" stroke="#1a1a1a" stroke-width="0.45">Bedroom 1</text>
<text x="1740.0" y="184" font-size="20.5" textLength="102.5" lengthAdjust="spacingAndGlyphs" fill="#1a1a1a" stroke="#1a1a1a" stroke-width="0.45">10,62 m²</text>
<text x="1526" y="218" font-size="20.5" textLength="132" lengthAdjust="spacingAndGlyphs" fill="#1a1a1a" stroke="#1a1a1a" stroke-width="0.45">Bathroom 1</text>
<text x="1756.0" y="218" font-size="20.5" textLength="86.5" lengthAdjust="spacingAndGlyphs" fill="#1a1a1a" stroke="#1a1a1a" stroke-width="0.45">4,03 m²</text>
<text x="1526" y="252.5" font-size="20.5" textLength="126" lengthAdjust="spacingAndGlyphs" fill="#1a1a1a" stroke="#1a1a1a" stroke-width="0.45">Bedroom 2</text>
<text x="1740.0" y="252.5" font-size="20.5" textLength="102.5" lengthAdjust="spacingAndGlyphs" fill="#1a1a1a" stroke="#1a1a1a" stroke-width="0.45">10,20 m²</text>
<text x="1526" y="286.5" font-size="20.5" textLength="183" lengthAdjust="spacingAndGlyphs" fill="#1a1a1a" stroke="#1a1a1a" stroke-width="0.45">Tot. Surface Int.</text>
<text x="1740.0" y="286.5" font-size="20.5" textLength="102.5" lengthAdjust="spacingAndGlyphs" fill="#1a1a1a" stroke="#1a1a1a" stroke-width="0.45">62,91 m²</text>
<text x="1526" y="321" font-size="20.5" textLength="89" lengthAdjust="spacingAndGlyphs" fill="#1a1a1a" stroke="#1a1a1a" stroke-width="0.45">Terrace</text>
<text x="1756.0" y="321" font-size="20.5" textLength="86.5" lengthAdjust="spacingAndGlyphs" fill="#1a1a1a" stroke="#1a1a1a" stroke-width="0.45">7,50 m²</text>
<text x="1526" y="389.5" font-size="20.5" textLength="141" lengthAdjust="spacingAndGlyphs" fill="#1a1a1a" stroke="#1a1a1a" stroke-width="0.45">Tot. Surface</text>
<text x="1740.0" y="389.5" font-size="20.5" textLength="102.5" lengthAdjust="spacingAndGlyphs" fill="#1a1a1a" stroke="#1a1a1a" stroke-width="0.45">70,41 m²</text>
<g transform="translate(1412,620) scale(0.25)" shape-rendering="auto">
<polygon points="108,32 1798,40 1832,242 48,242 68,62" fill="#fff" stroke="#0a0a0a" stroke-width="12" stroke-linejoin="miter"/>
<rect x="100" y="30" width="1700" height="16" fill="#0a0a0a"/>
<rect x="48" y="225" width="1784" height="21" fill="#0a0a0a"/>
<rect x="112" y="36" width="12" height="84" fill="#0a0a0a"/>
<rect x="60" y="120" width="70" height="12" fill="#0a0a0a"/>
<circle cx="180" cy="78" r="15" fill="#fff" stroke="#0a0a0a" stroke-width="6"/>
<rect x="177" y="63" width="6" height="30" fill="#0a0a0a"/>
<rect x="135" y="108" width="80" height="22" fill="#0a0a0a"/>
<rect x="138" y="110" width="74" height="18" fill="#0a0a0a"/>
<rect x="146.0" y="112.0" width="14.0" height="14.0" fill="#fff"/>
<rect x="168.0" y="112.0" width="14.0" height="14.0" fill="#fff"/>
<rect x="190.0" y="112.0" width="14.0" height="14.0" fill="#fff"/>
<rect x="62" y="170" width="70" height="62" fill="#0a0a0a"/>
<circle cx="80" cy="185" r="9" fill="#fff"/>
<circle cx="112" cy="185" r="9" fill="#fff"/>
<circle cx="80" cy="216" r="9" fill="#fff"/>
<circle cx="112" cy="216" r="9" fill="#fff"/>
<ellipse cx="180" cy="188" rx="38" ry="36" fill="#fff" stroke="#0a0a0a" stroke-width="7"/>
<rect x="156.44" y="172.88" width="47.12" height="30.24" fill="#fff" stroke="#0a0a0a" stroke-width="9"/>
<rect x="240" y="100" width="110" height="132" fill="#0a0a0a"/>
<rect x="252" y="112" width="28" height="38" fill="#fff"/>
<rect x="252" y="165" width="28" height="27" fill="#fff"/>
<rect x="252" y="205" width="28" height="20" fill="#fff"/>
<rect x="270" y="130" width="65" height="30" fill="#fff"/>
<rect x="292" y="138" width="36" height="14" fill="#0a0a0a"/>
<rect x="280" y="168" width="52" height="20" fill="#fff"/>
<rect x="280" y="198" width="52" height="20" fill="#fff"/>
<rect x="300" y="172" width="32" height="12" fill="#0a0a0a"/>
<rect x="300" y="202" width="32" height="12" fill="#0a0a0a"/>
<rect x="358" y="85" width="132" height="27" fill="#0a0a0a"/>
<rect x="370" y="92" width="30" height="12" fill="#fff"/>
<rect x="415" y="92" width="25" height="12" fill="#fff"/>
<rect x="352" y="112" width="16" height="58" fill="#0a0a0a"/>
<rect x="368" y="150" width="47" height="15" fill="#0a0a0a"/>
<rect x="400" y="158" width="72" height="57" fill="#0a0a0a"/>
<rect x="410" y="168" width="52" height="37" fill="#fff"/>
<rect x="445" y="172" width="17" height="28" fill="#0a0a0a"/>
<rect x="476" y="130" width="16" height="102" fill="#0a0a0a"/>
<rect x="498" y="158" width="72" height="57" fill="#0a0a0a"/>
<rect x="508" y="168" width="52" height="37" fill="#fff"/>
<rect x="508" y="172" width="17" height="28" fill="#0a0a0a"/>
<rect x="490" y="85" width="290" height="27" fill="#0a0a0a"/>
<rect x="540" y="92" width="22" height="12" fill="#fff"/>
<rect x="585" y="92" width="22" height="12" fill="#fff"/>
<rect x="630" y="92" width="22" height="12" fill="#fff"/>
<rect x="680" y="92" width="22" height="12" fill="#fff"/>
<rect x="720" y="92" width="22" height="12" fill="#fff"/>
<rect x="575" y="112" width="17" height="123" fill="#0a0a0a"/>
<rect x="695" y="130" width="80" height="30" fill="#0a0a0a"/>
<rect x="702" y="137" width="18" height="15" fill="#fff"/>
<rect x="728" y="137" width="18" height="15" fill="#fff"/>
<rect x="752" y="137" width="16" height="15" fill="#fff"/>
<rect x="695" y="205" width="80" height="27" fill="#0a0a0a"/>
<rect x="710" y="212" width="50" height="14" fill="#fff"/>
<ellipse cx="640" cy="180" rx="38" ry="38" fill="#fff" stroke="#0a0a0a" stroke-width="7"/>
<rect x="624.04" y="156.44" width="31.919999999999998" height="47.12" fill="#fff" stroke="#0a0a0a" stroke-width="9"/>
<circle cx="735" cy="185" r="12" fill="#fff" stroke="#0a0a0a" stroke-width="6"/>
<rect x="732" y="173" width="6" height="24" fill="#0a0a0a"/>
<rect x="780" y="85" width="102" height="151" fill="#0a0a0a"/>
<circle cx="835" cy="195" r="7" fill="#fff"/>
<rect x="820" y="118" width="30" height="6" fill="#0a0a0a"/>
<rect x="925" y="50" width="60" height="75" fill="#fff" stroke="#0a0a0a" stroke-width="8"/>
<rect x="942" y="62" width="26" height="38" fill="#0a0a0a"/>
<rect x="949" y="68" width="12" height="26" fill="#fff"/>
<rect x="910" y="140" width="82" height="96" fill="#0a0a0a"/>
<rect x="923.0" y="149.5" width="14.0" height="14.0" fill="#fff"/>
<rect x="923.0" y="170.5" width="14.0" height="14.0" fill="#fff"/>
<rect x="923.0" y="191.5" width="14.0" height="14.0" fill="#fff"/>
<rect x="923.0" y="212.5" width="14.0" height="14.0" fill="#fff"/>
<rect x="944.0" y="149.5" width="14.0" height="14.0" fill="#fff"/>
<rect x="944.0" y="170.5" width="14.0" height="14.0" fill="#fff"/>
<rect x="944.0" y="191.5" width="14.0" height="14.0" fill="#fff"/>
<rect x="944.0" y="212.5" width="14.0" height="14.0" fill="#fff"/>
<rect x="965.0" y="149.5" width="14.0" height="14.0" fill="#fff"/>
<rect x="965.0" y="170.5" width="14.0" height="14.0" fill="#fff"/>
<rect x="965.0" y="191.5" width="14.0" height="14.0" fill="#fff"/>
<rect x="965.0" y="212.5" width="14.0" height="14.0" fill="#fff"/>
<rect x="1020" y="90" width="80" height="30" fill="#0a0a0a"/>
<circle cx="1062" cy="108" r="10" fill="#fff" stroke="#0a0a0a" stroke-width="6"/>
<rect x="1059" y="98" width="6" height="20" fill="#0a0a0a"/>
<rect x="1025" y="165" width="70" height="67" fill="#0a0a0a"/>
<circle cx="1045" cy="182" r="9" fill="#fff"/>
<circle cx="1078" cy="182" r="9" fill="#fff"/>
<circle cx="1045" cy="214" r="9" fill="#fff"/>
<circle cx="1078" cy="214" r="9" fill="#fff"/>
<rect x="1100" y="85" width="215" height="27" fill="#0a0a0a"/>
<rect x="1120" y="92" width="22" height="12" fill="#fff"/>
<rect x="1160" y="92" width="22" height="12" fill="#fff"/>
<rect x="1200" y="92" width="22" height="12" fill="#fff"/>
<rect x="1240" y="92" width="22" height="12" fill="#fff"/>
<rect x="1280" y="92" width="22" height="12" fill="#fff"/>
<rect x="1115" y="130" width="80" height="30" fill="#0a0a0a"/>
<rect x="1122" y="137" width="18" height="15" fill="#fff"/>
<rect x="1148" y="137" width="18" height="15" fill="#fff"/>
<rect x="1172" y="137" width="16" height="15" fill="#fff"/>
<rect x="1115" y="205" width="80" height="27" fill="#0a0a0a"/>
<rect x="1130" y="212" width="50" height="14" fill="#fff"/>
<circle cx="1155" cy="185" r="12" fill="#fff" stroke="#0a0a0a" stroke-width="6"/>
<rect x="1152" y="173" width="6" height="24" fill="#0a0a0a"/>
<ellipse cx="1245" cy="180" rx="38" ry="38" fill="#fff" stroke="#0a0a0a" stroke-width="7"/>
<rect x="1229.04" y="156.44" width="31.919999999999998" height="47.12" fill="#fff" stroke="#0a0a0a" stroke-width="9"/>
<rect x="1300" y="112" width="16" height="123" fill="#0a0a0a"/>
<rect x="1322" y="158" width="72" height="57" fill="#0a0a0a"/>
<rect x="1332" y="168" width="52" height="37" fill="#fff"/>
<rect x="1367" y="172" width="17" height="28" fill="#0a0a0a"/>
<rect x="1398" y="130" width="16" height="102" fill="#0a0a0a"/>
<rect x="1420" y="158" width="72" height="57" fill="#0a0a0a"/>
<rect x="1430" y="168" width="52" height="37" fill="#fff"/>
<rect x="1430" y="172" width="17" height="28" fill="#0a0a0a"/>
<rect x="1400" y="85" width="140" height="27" fill="#0a0a0a"/>
<rect x="1430" y="92" width="30" height="12" fill="#fff"/>
<rect x="1485" y="92" width="25" height="12" fill="#fff"/>
<rect x="1520" y="112" width="16" height="58" fill="#0a0a0a"/>
<rect x="1540" y="100" width="105" height="132" fill="#0a0a0a"/>
<rect x="1550" y="130" width="65" height="30" fill="#fff"/>
<rect x="1557" y="138" width="36" height="14" fill="#0a0a0a"/>
<rect x="1552" y="168" width="52" height="20" fill="#fff"/>
<rect x="1552" y="198" width="52" height="20" fill="#fff"/>
<rect x="1552" y="172" width="32" height="12" fill="#0a0a0a"/>
<rect x="1552" y="202" width="32" height="12" fill="#0a0a0a"/>
<rect x="1612" y="112" width="26" height="38" fill="#fff"/>
<rect x="1612" y="165" width="26" height="27" fill="#fff"/>
<rect x="1612" y="205" width="26" height="20" fill="#fff"/>
<rect x="1690" y="100" width="70" height="30" fill="#0a0a0a"/>
<rect x="1692" y="102" width="66" height="26" fill="#0a0a0a"/>
<rect x="1707.0" y="108.0" width="14.0" height="14.0" fill="#fff"/>
<rect x="1729.0" y="108.0" width="14.0" height="14.0" fill="#fff"/>
<circle cx="1720" cy="72" r="13" fill="#fff" stroke="#0a0a0a" stroke-width="6"/>
<rect x="1717" y="59" width="6" height="26" fill="#0a0a0a"/>
<ellipse cx="1715" cy="190" rx="38" ry="34" fill="#fff" stroke="#0a0a0a" stroke-width="7"/>
<rect x="1691.44" y="175.72" width="47.12" height="28.56" fill="#fff" stroke="#0a0a0a" stroke-width="9"/>
<rect x="1772" y="46" width="28" height="194" fill="#0a0a0a"/>
<rect x="1660" y="46" width="12" height="74" fill="#0a0a0a"/>
<rect x="80" y="246" width="90" height="182" fill="#0a0a0a"/>
<rect x="92" y="256" width="26" height="8" fill="#fff"/>
<rect x="126" y="258" width="34" height="7" fill="#fff"/>
<rect x="92" y="274" width="26" height="8" fill="#fff"/>
<rect x="126" y="276" width="34" height="7" fill="#fff"/>
<rect x="92" y="292" width="26" height="8" fill="#fff"/>
<rect x="126" y="294" width="34" height="7" fill="#fff"/>
<rect x="92" y="310" width="26" height="8" fill="#fff"/>
<rect x="126" y="312" width="34" height="7" fill="#fff"/>
<rect x="92" y="328" width="26" height="8" fill="#fff"/>
<rect x="126" y="330" width="34" height="7" fill="#fff"/>
<rect x="92" y="346" width="26" height="8" fill="#fff"/>
<rect x="126" y="348" width="34" height="7" fill="#fff"/>
<rect x="92" y="364" width="26" height="8" fill="#fff"/>
<rect x="126" y="366" width="34" height="7" fill="#fff"/>
<rect x="92" y="382" width="26" height="8" fill="#fff"/>
<rect x="126" y="384" width="34" height="7" fill="#fff"/>
<rect x="92" y="400" width="26" height="8" fill="#fff"/>
<rect x="126" y="402" width="34" height="7" fill="#fff"/>
<rect x="92" y="418" width="26" height="8" fill="#fff"/>
<rect x="126" y="420" width="34" height="7" fill="#fff"/>
<rect x="70" y="246" width="14" height="182" fill="#0a0a0a"/>
<rect x="182" y="248" width="42" height="140" fill="#3f8a3c"/>
<path d="M186,262 l34,8 l-34,10 z" fill="#1f5a22"/><rect x="206" y="254" width="18" height="10" fill="#8fc98a"/>
<path d="M186,296 l34,8 l-34,10 z" fill="#1f5a22"/><rect x="206" y="288" width="18" height="10" fill="#8fc98a"/>
<path d="M186,330 l34,8 l-34,10 z" fill="#1f5a22"/><rect x="206" y="322" width="18" height="10" fill="#8fc98a"/>
<path d="M186,364 l34,8 l-34,10 z" fill="#1f5a22"/><rect x="206" y="356" width="18" height="10" fill="#8fc98a"/>
<rect x="278" y="286" width="95" height="98" fill="#f3dd9c"/>
<ellipse cx="338" cy="334" rx="26" ry="44" fill="#fff" stroke="#0a0a0a" stroke-width="10"/>
<rect x="333" y="292" width="10" height="84" fill="#0a0a0a"/>
<circle cx="412" cy="312" r="18" fill="#2a2418"/>
<path d="M401.2,312 h21.599999999999998 M412,301.2 v21.599999999999998" stroke="#bdb39a" stroke-width="4"/>
<circle cx="412" cy="360" r="18" fill="#2a2418"/>
<path d="M401.2,360 h21.599999999999998 M412,349.2 v21.599999999999998" stroke="#bdb39a" stroke-width="4"/>
<circle cx="486" cy="336" r="21" fill="#2a2418"/>
<path d="M473.4,336 h25.2 M486,323.4 v25.2" stroke="#bdb39a" stroke-width="4"/>
<rect x="540" y="296" width="6" height="6" fill="#0a0a0a"/>
<rect x="540" y="318" width="6" height="6" fill="#0a0a0a"/>
<rect x="540" y="362" width="6" height="6" fill="#0a0a0a"/>
<rect x="540" y="376" width="6" height="6" fill="#0a0a0a"/>
<rect x="600" y="282" width="155" height="94" fill="#6d6443"/>
<rect x="610" y="290" width="54.25" height="47.0" fill="#8b8262"/>
<path d="M625.1999999999999,284.2 L661.6,284.2 L643.4,336.2 Z" fill="#0c0c08"/>
<path d="M703.0,284.9 L745.0,284.9 L724.0,344.9 Z" fill="#0c0c08"/>
<path d="M657.15,339.2 L682.35,339.2 L669.75,375.2 Z" fill="#0c0c08"/>
<path d="M684.9,324.28 L707.3000000000001,324.28 L696.1,356.28 Z" fill="#0c0c08"/>
<rect x="752" y="345" width="48" height="44" fill="#e4e4e0"/>
<rect x="770" y="355" width="14" height="14" fill="#0a0a0a"/>
<path d="M780,288 v14 h18" stroke="#0a0a0a" stroke-width="5" fill="none"/>
<rect x="872" y="326" width="80" height="22" fill="#0a0a0a"/>
<rect x="962" y="326" width="74" height="22" fill="#0a0a0a"/>
<rect x="1108" y="286" width="52" height="104" fill="#6d6443"/>
<rect x="1118" y="294" width="18.2" height="52.0" fill="#8b8262"/>
<path d="M1104.36,291.2 L1140.76,291.2 L1122.56,343.2 Z" fill="#0c0c08"/>
<path d="M1128.6,292.4 L1170.6,292.4 L1149.6,352.4 Z" fill="#0c0c08"/>
<path d="M1118.8000000000002,351.2 L1144.0,351.2 L1131.4,387.2 Z" fill="#0c0c08"/>
<path d="M1129.04,334.48 L1151.44,334.48 L1140.24,366.48 Z" fill="#0c0c08"/>
<rect x="1160" y="308" width="145" height="84" fill="#6d6443"/>
<rect x="1170" y="316" width="50.75" height="42.0" fill="#8b8262"/>
<path d="M1182.3999999999999,307.2 L1218.8,307.2 L1200.6,359.2 Z" fill="#0c0c08"/>
<path d="M1255.0,307.4 L1297.0,307.4 L1276.0,367.4 Z" fill="#0c0c08"/>
<path d="M1212.65,357.2 L1237.85,357.2 L1225.25,393.2 Z" fill="#0c0c08"/>
<path d="M1238.7,344.08 L1261.1000000000001,344.08 L1249.9,376.08 Z" fill="#0c0c08"/>
<rect x="1215" y="305" width="95" height="40" fill="#f4f2ea"/>
<path d="M1159,359 L1191,359 L1175,319 Z" fill="#0c0c08"/>
<path d="M1234,386 L1266,386 L1250,346 Z" fill="#0c0c08"/>
<rect x="1223" y="313" width="10" height="10" fill="#0a0a0a"/>
<rect x="1287" y="317" width="10" height="10" fill="#0a0a0a"/>
<rect x="1265" y="335" width="10" height="10" fill="#0a0a0a"/>
<rect x="1388" y="326" width="80" height="22" fill="#0a0a0a"/>
<path d="M1628,246 V428 M1672,380 V428 M1672,380 H1832 M1740,246 V380 M1772,246 V380 M1800,246 V380 M1628,372 H1600 M1600,372 a14,14 0 0 1 0,-28 M1628,344 H1610" stroke="#0a0a0a" stroke-width="6" fill="none"/>
<path d="M1826,240 L1846,432" stroke="#0a0a0a" stroke-width="7"/>
<polygon points="50,430 1836,430 1902,1000 1800,1130 105,1130 25,1050 25,690" fill="#0a0a0a"/>
<rect x="58" y="450.84" width="92" height="103.66000000000003" fill="#fff"/>
<rect x="160" y="450.84" width="95" height="85.19999999999999" fill="#fff"/>
<rect x="282" y="501.96" width="96" height="66.74000000000007" fill="#fff"/>
<rect x="388" y="448.0" width="86" height="110.75999999999999" fill="#fff"/>
<rect x="484" y="448.0" width="86" height="110.75999999999999" fill="#fff"/>
<rect x="872" y="448.0" width="90" height="110.75999999999999" fill="#fff"/>
<rect x="1366" y="448.0" width="89" height="110.75999999999999" fill="#fff"/>
<rect x="1468" y="448.0" width="90" height="110.75999999999999" fill="#fff"/>
<rect x="976" y="448.0" width="90" height="110.75999999999999" fill="#f1efbe"/>
<rect x="612" y="507.64" width="110" height="82.36000000000001" fill="#fff"/>
<rect x="746" y="516.16" width="104" height="73.84000000000003" fill="#fff"/>
<rect x="1100" y="511.9" width="100" height="78.10000000000002" fill="#f1efbe"/>
<rect x="1216" y="507.64" width="114" height="82.36000000000001" fill="#fff"/>
<rect x="1580" y="501.96" width="102" height="66.74000000000007" fill="#fff"/>
<rect x="1700" y="450.84" width="138" height="85.19999999999999" fill="#fff"/>
<rect x="410" y="465.04" width="62" height="56.80000000000001" fill="#fff" stroke="#0a0a0a" stroke-width="7"/>
<rect x="442" y="470.72" width="28" height="45.43999999999994" fill="#0a0a0a"/>
<rect x="400" y="533.2" width="62" height="8.519999999999982" fill="#0a0a0a"/>
<rect x="486" y="465.04" width="62" height="56.80000000000001" fill="#fff" stroke="#0a0a0a" stroke-width="7"/>
<rect x="488" y="470.72" width="28" height="45.43999999999994" fill="#0a0a0a"/>
<rect x="496" y="533.2" width="62" height="8.519999999999982" fill="#0a0a0a"/>
<rect x="894" y="465.04" width="66" height="56.80000000000001" fill="#fff" stroke="#0a0a0a" stroke-width="7"/>
<rect x="930" y="470.72" width="28" height="45.43999999999994" fill="#0a0a0a"/>
<rect x="884" y="533.2" width="66" height="8.519999999999982" fill="#0a0a0a"/>
<rect x="978" y="465.04" width="66" height="56.80000000000001" fill="#fff" stroke="#0a0a0a" stroke-width="7"/>
<rect x="980" y="470.72" width="28" height="45.43999999999994" fill="#0a0a0a"/>
<rect x="988" y="533.2" width="66" height="8.519999999999982" fill="#0a0a0a"/>
<rect x="1388" y="465.04" width="65" height="56.80000000000001" fill="#fff" stroke="#0a0a0a" stroke-width="7"/>
<rect x="1423" y="470.72" width="28" height="45.43999999999994" fill="#0a0a0a"/>
<rect x="1378" y="533.2" width="65" height="8.519999999999982" fill="#0a0a0a"/>
<rect x="1470" y="465.04" width="66" height="56.80000000000001" fill="#fff" stroke="#0a0a0a" stroke-width="7"/>
<rect x="1472" y="470.72" width="28" height="45.43999999999994" fill="#0a0a0a"/>
<rect x="1480" y="533.2" width="66" height="8.519999999999982" fill="#0a0a0a"/>
<rect x="70" y="459.36" width="70" height="59.639999999999986" fill="#fff" stroke="#0a0a0a" stroke-width="7"/>
<rect x="92" y="467.88" width="26" height="22.720000000000027" fill="#0a0a0a"/>
<rect x="195" y="462.2" width="53" height="28.400000000000034" fill="#fff" stroke="#0a0a0a" stroke-width="7"/>
<rect x="195" y="499.12" width="53" height="28.399999999999977" fill="#fff" stroke="#0a0a0a" stroke-width="7"/>
<rect x="222" y="465.04" width="24" height="22.71999999999997" fill="#0a0a0a"/>
<rect x="222" y="501.96" width="24" height="22.720000000000084" fill="#0a0a0a"/>
<rect x="60" y="527.52" width="90" height="11.360000000000014" fill="#0a0a0a"/>
<rect x="100" y="538.88" width="50" height="14.200000000000045" fill="#0a0a0a"/>
<rect x="1748" y="459.36" width="80" height="59.639999999999986" fill="#fff" stroke="#0a0a0a" stroke-width="7"/>
<rect x="1772" y="467.88" width="28" height="22.720000000000027" fill="#0a0a0a"/>
<rect x="1706" y="462.2" width="36" height="28.400000000000034" fill="#fff" stroke="#0a0a0a" stroke-width="7"/>
<rect x="1706" y="499.12" width="36" height="8.519999999999982" fill="#0a0a0a"/>
<rect x="1700" y="519.0" width="90" height="11.360000000000014" fill="#0a0a0a"/>
<rect x="696" y="516.16" width="26" height="19.879999999999995" fill="#0a0a0a"/>
<rect x="696" y="538.88" width="26" height="19.879999999999995" fill="#0a0a0a"/>
<rect x="696" y="561.6" width="26" height="19.879999999999995" fill="#0a0a0a"/>
<rect x="702" y="521.84" width="14" height="11.360000000000014" fill="#fff"/>
<rect x="702" y="544.56" width="14" height="11.360000000000014" fill="#fff"/>
<rect x="702" y="567.28" width="14" height="11.360000000000014" fill="#fff"/>
<rect x="756" y="516.16" width="26" height="19.879999999999995" fill="#0a0a0a"/>
<rect x="756" y="538.88" width="26" height="19.879999999999995" fill="#0a0a0a"/>
<rect x="756" y="561.6" width="26" height="19.879999999999995" fill="#0a0a0a"/>
<rect x="762" y="521.84" width="14" height="11.360000000000014" fill="#fff"/>
<rect x="762" y="544.56" width="14" height="11.360000000000014" fill="#fff"/>
<rect x="762" y="567.28" width="14" height="11.360000000000014" fill="#fff"/>
<rect x="1176" y="516.16" width="26" height="19.879999999999995" fill="#0a0a0a"/>
<rect x="1176" y="538.88" width="26" height="19.879999999999995" fill="#0a0a0a"/>
<rect x="1176" y="561.6" width="26" height="19.879999999999995" fill="#0a0a0a"/>
<rect x="1182" y="521.84" width="14" height="11.360000000000014" fill="#fff"/>
<rect x="1182" y="544.56" width="14" height="11.360000000000014" fill="#fff"/>
<rect x="1182" y="567.28" width="14" height="11.360000000000014" fill="#fff"/>
<rect x="1234" y="516.16" width="26" height="19.879999999999995" fill="#0a0a0a"/>
<rect x="1234" y="538.88" width="26" height="19.879999999999995" fill="#0a0a0a"/>
<rect x="1234" y="561.6" width="26" height="19.879999999999995" fill="#0a0a0a"/>
<rect x="1240" y="521.84" width="14" height="11.360000000000014" fill="#fff"/>
<rect x="1240" y="544.56" width="14" height="11.360000000000014" fill="#fff"/>
<rect x="1240" y="567.28" width="14" height="11.360000000000014" fill="#fff"/>
<circle cx="668" cy="544.56" r="13" fill="#fff" stroke="#0a0a0a" stroke-width="6"/>
<rect x="665" y="531.56" width="6" height="26.0" fill="#0a0a0a"/>
<circle cx="800" cy="550.24" r="13" fill="#fff" stroke="#0a0a0a" stroke-width="6"/>
<rect x="797" y="537.24" width="6" height="26.0" fill="#0a0a0a"/>
<circle cx="1140" cy="550.24" r="13" fill="#fff" stroke="#0a0a0a" stroke-width="6"/>
<rect x="1137" y="537.24" width="6" height="26.0" fill="#0a0a0a"/>
<circle cx="1275" cy="544.56" r="13" fill="#fff" stroke="#0a0a0a" stroke-width="6"/>
<rect x="1272" y="531.56" width="6" height="26.0" fill="#0a0a0a"/>
<circle cx="318" cy="533.2" r="13" fill="#fff" stroke="#0a0a0a" stroke-width="6"/>
<rect x="315" y="520.2" width="6" height="26.0" fill="#0a0a0a"/>
<circle cx="1640" cy="533.2" r="13" fill="#fff" stroke="#0a0a0a" stroke-width="6"/>
<rect x="1637" y="520.2" width="6" height="26.0" fill="#0a0a0a"/>
<circle cx="635" cy="462.2" r="7" fill="#fff"/>
<circle cx="770" cy="462.2" r="7" fill="#fff"/>
<circle cx="835" cy="462.2" r="7" fill="#fff"/>
<circle cx="1165" cy="462.2" r="7" fill="#fff"/>
<circle cx="1300" cy="462.2" r="7" fill="#fff"/>
<rect x="40" y="991.85" width="110" height="102.74999999999989" fill="#fff"/>
<rect x="180" y="1037.06" width="75" height="71.24000000000001" fill="#fff"/>
<rect x="282" y="1005.55" width="96" height="64.3900000000001" fill="#fff"/>
<rect x="388" y="1015.14" width="86" height="98.63999999999999" fill="#fff"/>
<rect x="484" y="1015.14" width="86" height="98.63999999999999" fill="#fff"/>
<rect x="1366" y="1015.14" width="89" height="98.63999999999999" fill="#fff"/>
<rect x="1468" y="1015.14" width="90" height="98.63999999999999" fill="#fff"/>
<rect x="900" y="1039.8" width="62" height="47.950000000000045" fill="#fff"/>
<rect x="976" y="1039.8" width="64" height="47.950000000000045" fill="#fff"/>
<rect x="612" y="985.0" width="110" height="79.46000000000004" fill="#fff"/>
<rect x="746" y="985.0" width="104" height="71.24000000000001" fill="#fff"/>
<rect x="1100" y="985.0" width="100" height="75.34999999999991" fill="#fff"/>
<rect x="1216" y="985.0" width="114" height="79.46000000000004" fill="#fff"/>
<rect x="1580" y="1005.55" width="102" height="64.3900000000001" fill="#fff"/>
<rect x="1700" y="998.7" width="100" height="82.20000000000005" fill="#fff"/>
<rect x="1600" y="1080.9" width="90" height="34.25" fill="#fff"/>
<rect x="410" y="1050.76" width="62" height="49.319999999999936" fill="#fff" stroke="#0a0a0a" stroke-width="7"/>
<rect x="442" y="1056.24" width="28" height="38.3599999999999" fill="#0a0a0a"/>
<rect x="400" y="1031.58" width="62" height="8.220000000000027" fill="#0a0a0a"/>
<rect x="486" y="1050.76" width="62" height="49.319999999999936" fill="#fff" stroke="#0a0a0a" stroke-width="7"/>
<rect x="488" y="1056.24" width="28" height="38.3599999999999" fill="#0a0a0a"/>
<rect x="496" y="1031.58" width="62" height="8.220000000000027" fill="#0a0a0a"/>
<rect x="1388" y="1050.76" width="65" height="49.319999999999936" fill="#fff" stroke="#0a0a0a" stroke-width="7"/>
<rect x="1423" y="1056.24" width="28" height="38.3599999999999" fill="#0a0a0a"/>
<rect x="1378" y="1031.58" width="65" height="8.220000000000027" fill="#0a0a0a"/>
<rect x="1470" y="1050.76" width="66" height="49.319999999999936" fill="#fff" stroke="#0a0a0a" stroke-width="7"/>
<rect x="1472" y="1056.24" width="28" height="38.3599999999999" fill="#0a0a0a"/>
<rect x="1480" y="1031.58" width="66" height="8.220000000000027" fill="#0a0a0a"/>
<rect x="55" y="1012.4" width="55" height="54.80000000000007" fill="#fff" stroke="#0a0a0a" stroke-width="7"/>
<rect x="70" y="1017.88" width="25" height="19.17999999999995" fill="#0a0a0a"/>
<rect x="190" y="1080.9" width="60" height="24.659999999999854" fill="#fff" stroke="#0a0a0a" stroke-width="7"/>
<rect x="190" y="1048.02" width="60" height="24.660000000000082" fill="#fff" stroke="#0a0a0a" stroke-width="7"/>
<rect x="222" y="1083.64" width="26" height="19.179999999999836" fill="#0a0a0a"/>
<rect x="222" y="1050.76" width="26" height="19.180000000000064" fill="#0a0a0a"/>
<rect x="1740" y="1012.4" width="55" height="54.80000000000007" fill="#fff" stroke="#0a0a0a" stroke-width="7"/>
<rect x="1755" y="1017.88" width="25" height="19.17999999999995" fill="#0a0a0a"/>
<rect x="696" y="1037.06" width="26" height="19.180000000000064" fill="#0a0a0a"/>
<rect x="696" y="1015.14" width="26" height="19.17999999999995" fill="#0a0a0a"/>
<rect x="696" y="993.22" width="26" height="19.17999999999995" fill="#0a0a0a"/>
<rect x="702" y="1039.8" width="14" height="10.960000000000036" fill="#fff"/>
<rect x="702" y="1017.88" width="14" height="10.959999999999923" fill="#fff"/>
<rect x="702" y="995.96" width="14" height="10.959999999999923" fill="#fff"/>
<rect x="756" y="1037.06" width="26" height="19.180000000000064" fill="#0a0a0a"/>
<rect x="756" y="1015.14" width="26" height="19.17999999999995" fill="#0a0a0a"/>
<rect x="756" y="993.22" width="26" height="19.17999999999995" fill="#0a0a0a"/>
<rect x="762" y="1039.8" width="14" height="10.960000000000036" fill="#fff"/>
<rect x="762" y="1017.88" width="14" height="10.959999999999923" fill="#fff"/>
<rect x="762" y="995.96" width="14" height="10.959999999999923" fill="#fff"/>
<rect x="1176" y="1037.06" width="26" height="19.180000000000064" fill="#0a0a0a"/>
<rect x="1176" y="1015.14" width="26" height="19.17999999999995" fill="#0a0a0a"/>
<rect x="1176" y="993.22" width="26" height="19.17999999999995" fill="#0a0a0a"/>
<rect x="1182" y="1039.8" width="14" height="10.960000000000036" fill="#fff"/>
<rect x="1182" y="1017.88" width="14" height="10.959999999999923" fill="#fff"/>
<rect x="1182" y="995.96" width="14" height="10.959999999999923" fill="#fff"/>
<rect x="1234" y="1037.06" width="26" height="19.180000000000064" fill="#0a0a0a"/>
<rect x="1234" y="1015.14" width="26" height="19.17999999999995" fill="#0a0a0a"/>
<rect x="1234" y="993.22" width="26" height="19.17999999999995" fill="#0a0a0a"/>
<rect x="1240" y="1039.8" width="14" height="10.960000000000036" fill="#fff"/>
<rect x="1240" y="1017.88" width="14" height="10.959999999999923" fill="#fff"/>
<rect x="1240" y="995.96" width="14" height="10.959999999999923" fill="#fff"/>
<circle cx="668" cy="1028.84" r="13" fill="#fff" stroke="#0a0a0a" stroke-width="6"/>
<rect x="665" y="1015.8399999999999" width="6" height="26.0" fill="#0a0a0a"/>
<circle cx="800" cy="1023.36" r="13" fill="#fff" stroke="#0a0a0a" stroke-width="6"/>
<rect x="797" y="1010.36" width="6" height="26.000000000000114" fill="#0a0a0a"/>
<circle cx="1140" cy="1023.36" r="13" fill="#fff" stroke="#0a0a0a" stroke-width="6"/>
<rect x="1137" y="1010.36" width="6" height="26.000000000000114" fill="#0a0a0a"/>
<circle cx="1275" cy="1028.84" r="13" fill="#fff" stroke="#0a0a0a" stroke-width="6"/>
<rect x="1272" y="1015.8399999999999" width="6" height="26.0" fill="#0a0a0a"/>
<circle cx="318" cy="1039.8" r="13" fill="#fff" stroke="#0a0a0a" stroke-width="6"/>
<rect x="315" y="1026.8" width="6" height="26.0" fill="#0a0a0a"/>
<circle cx="1640" cy="1039.8" r="13" fill="#fff" stroke="#0a0a0a" stroke-width="6"/>
<rect x="1637" y="1026.8" width="6" height="26.0" fill="#0a0a0a"/>
<circle cx="635" cy="1105.56" r="7" fill="#fff"/>
<circle cx="770" cy="1105.56" r="7" fill="#fff"/>
<circle cx="1165" cy="1105.56" r="7" fill="#fff"/>
<circle cx="1300" cy="1105.56" r="7" fill="#fff"/>
<rect x="964" y="440" width="8" height="320" fill="#0a0a0a"/>
<rect x="964" y="830" width="8" height="275" fill="#0a0a0a"/>
<rect x="476" y="440" width="6" height="220" fill="#0a0a0a"/>
<rect x="476" y="900" width="6" height="220" fill="#0a0a0a"/>
<rect x="1458" y="440" width="6" height="220" fill="#0a0a0a"/>
<rect x="1458" y="900" width="6" height="220" fill="#0a0a0a"/>
<rect x="366" y="768" width="338" height="34" fill="#fff"/>
<rect x="1240" y="768" width="322" height="34" fill="#fff"/>
<rect x="45" y="775" width="170" height="57" fill="#0a0a0a"/>
<rect x="62.0" y="793.5" width="20.0" height="20.0" fill="#fff"/>
<rect x="91.0" y="793.5" width="20.0" height="20.0" fill="#fff"/>
<rect x="120.0" y="793.5" width="20.0" height="20.0" fill="#fff"/>
<rect x="149.0" y="793.5" width="20.0" height="20.0" fill="#fff"/>
<rect x="178.0" y="793.5" width="20.0" height="20.0" fill="#fff"/>
<rect x="750" y="768" width="155" height="44" fill="#0a0a0a"/>
<rect x="759.5" y="782.0" width="16.0" height="16.0" fill="#fff"/>
<rect x="783.5" y="782.0" width="16.0" height="16.0" fill="#fff"/>
<rect x="807.5" y="782.0" width="16.0" height="16.0" fill="#fff"/>
<rect x="831.5" y="782.0" width="16.0" height="16.0" fill="#fff"/>
<rect x="855.5" y="782.0" width="16.0" height="16.0" fill="#fff"/>
<rect x="879.5" y="782.0" width="16.0" height="16.0" fill="#fff"/>
<rect x="1040" y="766" width="160" height="46" fill="#0a0a0a"/>
<rect x="1052.0" y="781.0" width="16.0" height="16.0" fill="#fff"/>
<rect x="1076.0" y="781.0" width="16.0" height="16.0" fill="#fff"/>
<rect x="1100.0" y="781.0" width="16.0" height="16.0" fill="#fff"/>
<rect x="1124.0" y="781.0" width="16.0" height="16.0" fill="#fff"/>
<rect x="1148.0" y="781.0" width="16.0" height="16.0" fill="#fff"/>
<rect x="1172.0" y="781.0" width="16.0" height="16.0" fill="#fff"/>
<rect x="1700" y="775" width="172" height="57" fill="#0a0a0a"/>
<rect x="1718.0" y="793.5" width="20.0" height="20.0" fill="#fff"/>
<rect x="1747.0" y="793.5" width="20.0" height="20.0" fill="#fff"/>
<rect x="1776.0" y="793.5" width="20.0" height="20.0" fill="#fff"/>
<rect x="1805.0" y="793.5" width="20.0" height="20.0" fill="#fff"/>
<rect x="1834.0" y="793.5" width="20.0" height="20.0" fill="#fff"/>
<rect x="272" y="768" width="90" height="64" fill="#fff"/>
<rect x="285" y="786" width="65" height="14" fill="#0a0a0a"/>
<rect x="300" y="806" width="38" height="10" fill="#0a0a0a"/>
<rect x="1572" y="768" width="108" height="64" fill="#fff"/>
<rect x="1590" y="786" width="70" height="14" fill="#0a0a0a"/>
<rect x="1605" y="806" width="40" height="10" fill="#0a0a0a"/>
<circle cx="250" cy="802" r="30" fill="#fff" stroke="#0a0a0a" stroke-width="5"/>
<rect x="218" y="796" width="64" height="10" fill="#0a0a0a"/>
<circle cx="1690" cy="802" r="30" fill="#fff" stroke="#0a0a0a" stroke-width="5"/>
<rect x="1658" y="796" width="64" height="10" fill="#0a0a0a"/>
<circle cx="716" cy="785" r="26" fill="#fff" stroke="#0a0a0a" stroke-width="5"/>
<circle cx="1228" cy="785" r="26" fill="#fff" stroke="#0a0a0a" stroke-width="5"/>
<rect x="918" y="748" width="92" height="82" fill="#fff" stroke="#0a0a0a" stroke-width="8"/>
<path d="M918,748 L1010,830 M1010,748 L918,830" stroke="#0a0a0a" stroke-width="4.5"/>
<rect x="140" y="592.0" width="115" height="161.5" fill="#fff"/>
<rect x="160" y="602.2" width="32" height="83.29999999999995" fill="#0a0a0a"/>
<rect x="166" y="609.0" width="20" height="20.399999999999977" fill="#fff"/>
<rect x="166" y="636.2" width="20" height="20.399999999999977" fill="#fff"/>
<rect x="166" y="663.4" width="20" height="17.0" fill="#fff"/>
<circle cx="215" cy="643.0" r="12" fill="#fff" stroke="#0a0a0a" stroke-width="6"/>
<rect x="212" y="631.0" width="6" height="24.0" fill="#0a0a0a"/>
<circle cx="78" cy="622.6" r="7" fill="#fff"/>
<rect x="30" y="685.5" width="105" height="76.5" fill="#fff"/>
<ellipse cx="90" cy="728.0" rx="40" ry="36" fill="#fff" stroke="#0a0a0a" stroke-width="7"/>
<rect x="65.2" y="712.88" width="49.6" height="30.24" fill="#fff" stroke="#0a0a0a" stroke-width="9"/>
<rect x="165" y="711.0" width="80" height="8.5" fill="#0a0a0a"/>
<rect x="195" y="736.5" width="23" height="13.600000000000023" fill="#0a0a0a"/>
<rect x="262" y="592.0" width="138" height="85.0" fill="#fff"/>
<ellipse cx="296" cy="626.0" rx="32" ry="36" fill="#fff" stroke="#0a0a0a" stroke-width="7"/>
<rect x="282.56" y="603.68" width="26.88" height="44.64" fill="#fff" stroke="#0a0a0a" stroke-width="9"/>
<rect x="265" y="680.4" width="73" height="73.10000000000002" fill="#0a0a0a"/>
<rect x="276.5" y="691.95" width="12.0" height="12.0" fill="#fff"/>
<rect x="276.5" y="710.95" width="12.0" height="12.0" fill="#fff"/>
<rect x="276.5" y="729.95" width="12.0" height="12.0" fill="#fff"/>
<rect x="295.5" y="691.95" width="12.0" height="12.0" fill="#fff"/>
<rect x="295.5" y="710.95" width="12.0" height="12.0" fill="#fff"/>
<rect x="295.5" y="729.95" width="12.0" height="12.0" fill="#fff"/>
<rect x="314.5" y="691.95" width="12.0" height="12.0" fill="#fff"/>
<rect x="314.5" y="710.95" width="12.0" height="12.0" fill="#fff"/>
<rect x="314.5" y="729.95" width="12.0" height="12.0" fill="#fff"/>
<rect x="345" y="668.5" width="55" height="93.5" fill="#fff"/>
<rect x="405" y="600.5" width="27" height="161.5" fill="#0a0a0a"/>
<rect x="411.5" y="614.25" width="14.0" height="14.0" fill="#fff"/>
<rect x="411.5" y="638.25" width="14.0" height="14.0" fill="#fff"/>
<rect x="411.5" y="662.25" width="14.0" height="14.0" fill="#fff"/>
<rect x="411.5" y="686.25" width="14.0" height="14.0" fill="#fff"/>
<rect x="411.5" y="710.25" width="14.0" height="14.0" fill="#fff"/>
<rect x="411.5" y="734.25" width="14.0" height="14.0" fill="#fff"/>
<rect x="438" y="663.4" width="90" height="90.10000000000002" fill="#fff" stroke="#0a0a0a" stroke-width="8"/>
<path d="M438,663.4 L528,753.5 M528,663.4 L438,753.5" stroke="#0a0a0a" stroke-width="4.5"/>
<rect x="540" y="677.0" width="60" height="76.5" fill="#fff"/>
<rect x="562" y="690.6" width="34" height="51.0" fill="#0a0a0a"/>
<rect x="568" y="700.8" width="22" height="13.600000000000023" fill="#fff"/>
<rect x="568" y="721.2" width="22" height="13.599999999999909" fill="#fff"/>
<rect x="440" y="592.0" width="160" height="61.200000000000045" fill="#fff"/>
<rect x="500" y="609.0" width="30" height="34.0" fill="#0a0a0a"/>
<rect x="545" y="612.4" width="55" height="10.200000000000045" fill="#0a0a0a"/>
<rect x="604" y="634.5" width="44" height="119.0" fill="#0a0a0a"/>
<rect x="619.0" y="652.5" width="14.0" height="14.0" fill="#fff"/>
<rect x="619.0" y="675.5" width="14.0" height="14.0" fill="#fff"/>
<rect x="619.0" y="698.5" width="14.0" height="14.0" fill="#fff"/>
<rect x="619.0" y="721.5" width="14.0" height="14.0" fill="#fff"/>
<rect x="650" y="600.5" width="85" height="158.10000000000002" fill="#fff"/>
<ellipse cx="686" cy="663.4" rx="36" ry="42" fill="#fff" stroke="#0a0a0a" stroke-width="7"/>
<rect x="670.88" y="637.36" width="30.24" height="52.08" fill="#fff" stroke="#0a0a0a" stroke-width="9"/>
<rect x="746" y="592.0" width="106" height="170.0" fill="#fff"/>
<ellipse cx="800" cy="665.1" rx="40" ry="44" fill="#fff" stroke="#0a0a0a" stroke-width="7"/>
<rect x="783.2" y="637.82" width="33.6" height="54.56" fill="#fff" stroke="#0a0a0a" stroke-width="9"/>
<rect x="770" y="609.0" width="60" height="6.7999999999999545" fill="#0a0a0a"/>
<rect x="872" y="592.0" width="90" height="161.5" fill="#fff"/>
<rect x="976" y="592.0" width="54" height="161.5" fill="#f1efbe"/>
<rect x="1030" y="592.0" width="170" height="161.5" fill="#f1efbe"/>
<rect x="890" y="527.4" width="170" height="30.600000000000023" fill="#0a0a0a"/>
<rect x="884" y="643.0" width="74" height="76.5" fill="#fff" stroke="#0a0a0a" stroke-width="7"/>
<rect x="906" y="661.0" width="30" height="40.5" fill="#0a0a0a"/>
<rect x="894" y="595.4" width="54" height="30.600000000000023" fill="#fff" stroke="#0a0a0a" stroke-width="7"/>
<rect x="980" y="643.0" width="76" height="76.5" fill="#fff" stroke="#0a0a0a" stroke-width="7"/>
<rect x="1002" y="661.0" width="32" height="40.5" fill="#0a0a0a"/>
<rect x="990" y="595.4" width="56" height="30.600000000000023" fill="#fff" stroke="#0a0a0a" stroke-width="7"/>
<rect x="1066" y="592.0" width="18" height="153.0" fill="#0a0a0a"/>
<ellipse cx="1140" cy="668.5" rx="40" ry="44" fill="#fff" stroke="#0a0a0a" stroke-width="7"/>
<rect x="1123.2" y="641.22" width="33.6" height="54.56" fill="#fff" stroke="#0a0a0a" stroke-width="9"/>
<rect x="1110" y="609.0" width="60" height="6.7999999999999545" fill="#0a0a0a"/>
<rect x="1212" y="600.5" width="78" height="158.10000000000002" fill="#fff"/>
<ellipse cx="1246" cy="663.4" rx="36" ry="42" fill="#fff" stroke="#0a0a0a" stroke-width="7"/>
<rect x="1230.88" y="637.36" width="30.24" height="52.08" fill="#fff" stroke="#0a0a0a" stroke-width="9"/>
<rect x="1292" y="634.5" width="42" height="119.0" fill="#0a0a0a"/>
<rect x="1306.0" y="652.5" width="14.0" height="14.0" fill="#fff"/>
<rect x="1306.0" y="675.5" width="14.0" height="14.0" fill="#fff"/>
<rect x="1306.0" y="698.5" width="14.0" height="14.0" fill="#fff"/>
<rect x="1306.0" y="721.5" width="14.0" height="14.0" fill="#fff"/>
<rect x="1340" y="677.0" width="62" height="76.5" fill="#fff"/>
<rect x="1346" y="690.6" width="34" height="51.0" fill="#0a0a0a"/>
<rect x="1352" y="700.8" width="22" height="13.600000000000023" fill="#fff"/>
<rect x="1352" y="721.2" width="22" height="13.599999999999909" fill="#fff"/>
<rect x="1340" y="592.0" width="160" height="61.200000000000045" fill="#fff"/>
<rect x="1410" y="609.0" width="30" height="34.0" fill="#0a0a0a"/>
<rect x="1340" y="612.4" width="55" height="10.200000000000045" fill="#0a0a0a"/>
<rect x="1412" y="663.4" width="92" height="90.10000000000002" fill="#fff" stroke="#0a0a0a" stroke-width="8"/>
<path d="M1412,663.4 L1504,753.5 M1504,663.4 L1412,753.5" stroke="#0a0a0a" stroke-width="4.5"/>
<rect x="1510" y="600.5" width="27" height="161.5" fill="#0a0a0a"/>
<rect x="1516.5" y="614.25" width="14.0" height="14.0" fill="#fff"/>
<rect x="1516.5" y="638.25" width="14.0" height="14.0" fill="#fff"/>
<rect x="1516.5" y="662.25" width="14.0" height="14.0" fill="#fff"/>
<rect x="1516.5" y="686.25" width="14.0" height="14.0" fill="#fff"/>
<rect x="1516.5" y="710.25" width="14.0" height="14.0" fill="#fff"/>
<rect x="1516.5" y="734.25" width="14.0" height="14.0" fill="#fff"/>
<rect x="1542" y="668.5" width="58" height="93.5" fill="#fff"/>
<rect x="1542" y="592.0" width="138" height="85.0" fill="#fff"/>
<ellipse cx="1642" cy="626.0" rx="32" ry="36" fill="#fff" stroke="#0a0a0a" stroke-width="7"/>
<rect x="1628.56" y="603.68" width="26.88" height="44.64" fill="#fff" stroke="#0a0a0a" stroke-width="9"/>
<rect x="1608" y="680.4" width="72" height="73.10000000000002" fill="#0a0a0a"/>
<rect x="1619.0" y="691.95" width="12.0" height="12.0" fill="#fff"/>
<rect x="1619.0" y="710.95" width="12.0" height="12.0" fill="#fff"/>
<rect x="1619.0" y="729.95" width="12.0" height="12.0" fill="#fff"/>
<rect x="1638.0" y="691.95" width="12.0" height="12.0" fill="#fff"/>
<rect x="1638.0" y="710.95" width="12.0" height="12.0" fill="#fff"/>
<rect x="1638.0" y="729.95" width="12.0" height="12.0" fill="#fff"/>
<rect x="1657.0" y="691.95" width="12.0" height="12.0" fill="#fff"/>
<rect x="1657.0" y="710.95" width="12.0" height="12.0" fill="#fff"/>
<rect x="1657.0" y="729.95" width="12.0" height="12.0" fill="#fff"/>
<rect x="1690" y="592.0" width="110" height="161.5" fill="#fff"/>
<rect x="1752" y="602.2" width="32" height="83.29999999999995" fill="#0a0a0a"/>
<rect x="1758" y="609.0" width="20" height="20.399999999999977" fill="#fff"/>
<rect x="1758" y="636.2" width="20" height="20.399999999999977" fill="#fff"/>
<rect x="1758" y="663.4" width="20" height="17.0" fill="#fff"/>
<circle cx="1722" cy="643.0" r="12" fill="#fff" stroke="#0a0a0a" stroke-width="6"/>
<rect x="1719" y="631.0" width="6" height="24.0" fill="#0a0a0a"/>
<rect x="1765" y="677.0" width="95" height="85.0" fill="#fff"/>
<ellipse cx="1812" cy="724.6" rx="40" ry="36" fill="#fff" stroke="#0a0a0a" stroke-width="7"/>
<rect x="1787.2" y="709.48" width="49.6" height="30.24" fill="#fff" stroke="#0a0a0a" stroke-width="9"/>
<circle cx="1835" cy="626.0" r="7" fill="#fff"/>
<rect x="1700" y="711.0" width="60" height="8.5" fill="#0a0a0a"/>
<rect x="40" y="842.3" width="120" height="99.60000000000002" fill="#fff"/>
<rect x="80" y="877.16" width="80" height="19.920000000000073" fill="#0a0a0a"/>
<rect x="88" y="880.48" width="16" height="13.279999999999973" fill="#fff"/>
<rect x="112" y="880.48" width="16" height="13.279999999999973" fill="#fff"/>
<rect x="136" y="880.48" width="16" height="13.279999999999973" fill="#fff"/>
<circle cx="120" cy="925.3" r="12" fill="#fff" stroke="#0a0a0a" stroke-width="6"/>
<rect x="117" y="913.3" width="6" height="24.0" fill="#0a0a0a"/>
<rect x="165" y="834.0" width="95" height="116.20000000000005" fill="#fff"/>
<ellipse cx="215" cy="883.8" rx="36" ry="36" fill="#fff" stroke="#0a0a0a" stroke-width="7"/>
<rect x="199.88" y="861.4799999999999" width="30.24" height="44.64" fill="#fff" stroke="#0a0a0a" stroke-width="9"/>
<rect x="262" y="917.0" width="138" height="83.0" fill="#fff"/>
<ellipse cx="300" cy="930.28" rx="38" ry="32" fill="#fff" stroke="#0a0a0a" stroke-width="7"/>
<rect x="276.44" y="916.8399999999999" width="47.12" height="26.88" fill="#fff" stroke="#0a0a0a" stroke-width="9"/>
<rect x="275" y="842.3" width="60" height="58.10000000000002" fill="#fff"/>
<rect x="345" y="834.0" width="55" height="91.29999999999995" fill="#fff"/>
<rect x="405" y="834.0" width="27" height="157.70000000000005" fill="#0a0a0a"/>
<rect x="411.5" y="845.85" width="14.0" height="14.0" fill="#fff"/>
<rect x="411.5" y="869.85" width="14.0" height="14.0" fill="#fff"/>
<rect x="411.5" y="893.85" width="14.0" height="14.0" fill="#fff"/>
<rect x="411.5" y="917.85" width="14.0" height="14.0" fill="#fff"/>
<rect x="411.5" y="941.85" width="14.0" height="14.0" fill="#fff"/>
<rect x="411.5" y="965.85" width="14.0" height="14.0" fill="#fff"/>
<rect x="438" y="842.3" width="90" height="87.98000000000002" fill="#fff" stroke="#0a0a0a" stroke-width="8"/>
<path d="M438,842.3 L528,930.28 M528,842.3 L438,930.28" stroke="#0a0a0a" stroke-width="4.5"/>
<rect x="540" y="842.3" width="60" height="74.70000000000005" fill="#fff"/>
<rect x="562" y="853.92" width="34" height="49.80000000000007" fill="#0a0a0a"/>
<rect x="568" y="893.76" width="22" height="-13.279999999999973" fill="#fff"/>
<rect x="568" y="873.84" width="22" height="-13.280000000000086" fill="#fff"/>
<rect x="440" y="940.24" width="160" height="59.75999999999999" fill="#fff"/>
<rect x="500" y="950.2" width="30" height="33.19999999999993" fill="#0a0a0a"/>
<rect x="545" y="970.12" width="55" height="9.960000000000036" fill="#0a0a0a"/>
<rect x="604" y="842.3" width="44" height="116.20000000000005" fill="#0a0a0a"/>
<rect x="619.0" y="858.9" width="14.0" height="14.0" fill="#fff"/>
<rect x="619.0" y="881.9" width="14.0" height="14.0" fill="#fff"/>
<rect x="619.0" y="904.9" width="14.0" height="14.0" fill="#fff"/>
<rect x="619.0" y="927.9" width="14.0" height="14.0" fill="#fff"/>
<rect x="650" y="837.3199999999999" width="85" height="154.3800000000001" fill="#fff"/>
<ellipse cx="686" cy="930.28" rx="36" ry="42" fill="#fff" stroke="#0a0a0a" stroke-width="7"/>
<rect x="670.88" y="904.24" width="30.24" height="52.08" fill="#fff" stroke="#0a0a0a" stroke-width="9"/>
<rect x="746" y="834.0" width="106" height="166.0" fill="#fff"/>
<ellipse cx="800" cy="928.62" rx="40" ry="44" fill="#fff" stroke="#0a0a0a" stroke-width="7"/>
<rect x="783.2" y="901.34" width="33.6" height="54.56" fill="#fff" stroke="#0a0a0a" stroke-width="9"/>
<rect x="770" y="976.76" width="60" height="6.639999999999986" fill="#0a0a0a"/>
<rect x="872" y="842.3" width="90" height="157.70000000000005" fill="#fff"/>
<rect x="976" y="842.3" width="90" height="157.70000000000005" fill="#fff"/>
<rect x="1080" y="842.3" width="120" height="157.70000000000005" fill="#fff"/>
<rect x="884" y="875.5" width="74" height="74.70000000000005" fill="#fff" stroke="#0a0a0a" stroke-width="7"/>
<rect x="906" y="893.5" width="30" height="38.700000000000045" fill="#0a0a0a"/>
<rect x="894" y="966.8" width="54" height="29.879999999999995" fill="#fff" stroke="#0a0a0a" stroke-width="7"/>
<rect x="980" y="875.5" width="76" height="74.70000000000005" fill="#fff" stroke="#0a0a0a" stroke-width="7"/>
<rect x="1002" y="893.5" width="32" height="38.700000000000045" fill="#0a0a0a"/>
<rect x="990" y="966.8" width="56" height="29.879999999999995" fill="#fff" stroke="#0a0a0a" stroke-width="7"/>
<rect x="1066" y="850.6" width="14" height="149.39999999999998" fill="#0a0a0a"/>
<ellipse cx="1140" cy="925.3" rx="40" ry="44" fill="#fff" stroke="#0a0a0a" stroke-width="7"/>
<rect x="1123.2" y="898.02" width="33.6" height="54.56" fill="#fff" stroke="#0a0a0a" stroke-width="9"/>
<rect x="1110" y="976.76" width="60" height="6.639999999999986" fill="#0a0a0a"/>
<rect x="1212" y="837.3199999999999" width="78" height="154.3800000000001" fill="#fff"/>
<ellipse cx="1246" cy="930.28" rx="36" ry="42" fill="#fff" stroke="#0a0a0a" stroke-width="7"/>
<rect x="1230.88" y="904.24" width="30.24" height="52.08" fill="#fff" stroke="#0a0a0a" stroke-width="9"/>
<rect x="1292" y="842.3" width="42" height="116.20000000000005" fill="#0a0a0a"/>
<rect x="1306.0" y="858.9" width="14.0" height="14.0" fill="#fff"/>
<rect x="1306.0" y="881.9" width="14.0" height="14.0" fill="#fff"/>
<rect x="1306.0" y="904.9" width="14.0" height="14.0" fill="#fff"/>
<rect x="1306.0" y="927.9" width="14.0" height="14.0" fill="#fff"/>
<rect x="1340" y="842.3" width="62" height="74.70000000000005" fill="#fff"/>
<rect x="1346" y="853.92" width="34" height="49.80000000000007" fill="#0a0a0a"/>
<rect x="1352" y="893.76" width="22" height="-13.279999999999973" fill="#fff"/>
<rect x="1352" y="873.84" width="22" height="-13.280000000000086" fill="#fff"/>
<rect x="1340" y="940.24" width="160" height="59.75999999999999" fill="#fff"/>
<rect x="1410" y="950.2" width="30" height="33.19999999999993" fill="#0a0a0a"/>
<rect x="1340" y="970.12" width="55" height="9.960000000000036" fill="#0a0a0a"/>
<rect x="1412" y="842.3" width="92" height="87.98000000000002" fill="#fff" stroke="#0a0a0a" stroke-width="8"/>
<path d="M1412,842.3 L1504,930.28 M1504,842.3 L1412,930.28" stroke="#0a0a0a" stroke-width="4.5"/>
<rect x="1510" y="834.0" width="27" height="157.70000000000005" fill="#0a0a0a"/>
<rect x="1516.5" y="845.85" width="14.0" height="14.0" fill="#fff"/>
<rect x="1516.5" y="869.85" width="14.0" height="14.0" fill="#fff"/>
<rect x="1516.5" y="893.85" width="14.0" height="14.0" fill="#fff"/>
<rect x="1516.5" y="917.85" width="14.0" height="14.0" fill="#fff"/>
<rect x="1516.5" y="941.85" width="14.0" height="14.0" fill="#fff"/>
<rect x="1516.5" y="965.85" width="14.0" height="14.0" fill="#fff"/>
<rect x="1542" y="834.0" width="58" height="91.29999999999995" fill="#fff"/>
<rect x="1542" y="917.0" width="138" height="83.0" fill="#fff"/>
<ellipse cx="1640" cy="930.28" rx="38" ry="32" fill="#fff" stroke="#0a0a0a" stroke-width="7"/>
<rect x="1616.44" y="916.8399999999999" width="47.12" height="26.88" fill="#fff" stroke="#0a0a0a" stroke-width="9"/>
<rect x="1608" y="842.3" width="60" height="58.10000000000002" fill="#fff"/>
<rect x="1690" y="834.0" width="90" height="116.20000000000005" fill="#fff"/>
<ellipse cx="1726" cy="883.8" rx="34" ry="36" fill="#fff" stroke="#0a0a0a" stroke-width="7"/>
<rect x="1711.72" y="861.4799999999999" width="28.56" height="44.64" fill="#fff" stroke="#0a0a0a" stroke-width="9"/>
<rect x="1790" y="842.3" width="90" height="99.60000000000002" fill="#fff"/>
<rect x="1790" y="877.16" width="80" height="19.920000000000073" fill="#0a0a0a"/>
<rect x="1798" y="880.48" width="16" height="13.279999999999973" fill="#fff"/>
<rect x="1822" y="880.48" width="16" height="13.279999999999973" fill="#fff"/>
<rect x="1846" y="880.48" width="16" height="13.279999999999973" fill="#fff"/>
<circle cx="1830" cy="925.3" r="12" fill="#fff" stroke="#0a0a0a" stroke-width="6"/>
<rect x="1827" y="913.3" width="6" height="24.0" fill="#0a0a0a"/>
<rect x="736" y="592" width="10" height="408" fill="#0a0a0a"/>
<rect x="852" y="592" width="14" height="408" fill="#0a0a0a"/>
<rect x="1200" y="592" width="12" height="408" fill="#0a0a0a"/>
<polygon points="0,420 50,430 25,690 25,1050 105,1130 1800,1130 1902,1000 1836,430 1920,430 1920,1140 0,1140" fill="#fff"/>
<polygon points="50,430 1836,430 1902,1000 1800,1130 105,1130 25,1050 25,690" fill="none" stroke="#0a0a0a" stroke-width="9"/>
<rect x="50" y="428" width="1786" height="20" fill="#0a0a0a"/>
</g>
<rect x="289" y="252.5" width="80" height="47.5" fill="#fff" opacity="0.88"/>
<line x1="369" y1="252.5" x2="369" y2="300" stroke="#77723f" stroke-width="1.4"/>
<text transform="translate(291,272.5) scale(0.83,1)" font-size="23" text-anchor="start" fill="#1a1a1a" font-weight="normal" stroke="#1a1a1a" stroke-width="0.35">10.62 M2</text>
<text transform="translate(296,297) scale(0.807,1)" font-size="23" text-anchor="start" fill="#1a1a1a" font-weight="normal" stroke="#1a1a1a" stroke-width="0.35">DORM.1</text>
<text transform="translate(-9,272.5) scale(0.83,1)" font-size="23" text-anchor="start" fill="#1a1a1a" font-weight="normal" stroke="#1a1a1a" stroke-width="0.35">10.62 M2</text>
<text transform="translate(-3.5,297) scale(0.807,1)" font-size="23" text-anchor="start" fill="#1a1a1a" font-weight="normal" stroke="#1a1a1a" stroke-width="0.35">DORM.1</text>
<rect x="277" y="445.6" width="73" height="24.399999999999977" fill="#fff" opacity="0.88"/>
<line x1="350" y1="445.6" x2="350" y2="470" stroke="#77723f" stroke-width="1.4"/>
<line x1="277" y1="445.6" x2="350" y2="445.6" stroke="#6b6844" stroke-width="1.3"/>
<rect x="283" y="472" width="57" height="25" fill="#fff" opacity="0.88"/>
<line x1="340" y1="472" x2="340" y2="497" stroke="#77723f" stroke-width="1.4"/>
<text transform="translate(279,465) scale(0.808,1)" font-size="23" text-anchor="start" fill="#1a1a1a" font-weight="normal" stroke="#1a1a1a" stroke-width="0.35">4.03 M2</text>
<text transform="translate(285,492.5) scale(0.807,1)" font-size="23" text-anchor="start" fill="#1a1a1a" font-weight="normal" stroke="#1a1a1a" stroke-width="0.35">BAÑO</text>
<text transform="translate(10.5,465) scale(0.83,1)" font-size="23" text-anchor="start" fill="#1a1a1a" font-weight="normal" stroke="#1a1a1a" stroke-width="0.35">4.03 M2</text>
<text transform="translate(21,492.5) scale(0.807,1)" font-size="23" text-anchor="start" fill="#1a1a1a" font-weight="normal" stroke="#1a1a1a" stroke-width="0.35">BAÑO</text>
<rect x="390.6" y="468" width="70.39999999999998" height="25" fill="#fff" opacity="0.88"/>
<line x1="390.6" y1="468" x2="461" y2="468" stroke="#6b6844" stroke-width="1.3"/>
<rect x="397" y="495" width="56" height="22.5" fill="#fff" opacity="0.88"/>
<line x1="453" y1="495" x2="453" y2="517.5" stroke="#77723f" stroke-width="1.4"/>
<text transform="translate(393,488) scale(0.795,1)" font-size="23" text-anchor="start" fill="#1a1a1a" font-weight="normal" stroke="#1a1a1a" stroke-width="0.35">1.89 M2</text>
<text transform="translate(399,512) scale(0.807,1)" font-size="23" text-anchor="start" fill="#1a1a1a" font-weight="normal" stroke="#1a1a1a" stroke-width="0.35">PASO</text>
<rect x="330" y="704" width="80" height="23" fill="#fff" opacity="0.7"/>
<line x1="410" y1="704" x2="410" y2="727" stroke="#77723f" stroke-width="1.4"/>
<rect x="330" y="728" width="74" height="22" fill="#fff" opacity="0.7"/>
<line x1="404" y1="728" x2="404" y2="750" stroke="#77723f" stroke-width="1.4"/>
<text transform="translate(332.5,722.5) scale(0.83,1)" font-size="23" text-anchor="start" fill="#1a1a1a" font-weight="normal" stroke="#1a1a1a" stroke-width="0.35">10.20 M2</text>
<text transform="translate(332,747) scale(0.807,1)" font-size="23" text-anchor="start" fill="#1a1a1a" font-weight="normal" stroke="#1a1a1a" stroke-width="0.35">DORM.2</text>
<text transform="translate(-53,722.5) scale(0.83,1)" font-size="23" text-anchor="start" fill="#1a1a1a" font-weight="normal" stroke="#1a1a1a" stroke-width="0.35">10.20 M2</text>
<text transform="translate(-58,747) scale(0.807,1)" font-size="23" text-anchor="start" fill="#1a1a1a" font-weight="normal" stroke="#1a1a1a" stroke-width="0.35">DORM.2</text>
<rect x="613" y="525.6" width="84" height="22.399999999999977" fill="#fff" opacity="0.8"/>
<line x1="697" y1="525.6" x2="697" y2="548" stroke="#77723f" stroke-width="1.4"/>
<line x1="613" y1="525.6" x2="697" y2="525.6" stroke="#6b6844" stroke-width="1.3"/>
<rect x="557.5" y="548" width="202.0" height="25.5" fill="#fff" opacity="0.8"/>
<line x1="759.5" y1="548" x2="759.5" y2="573.5" stroke="#77723f" stroke-width="1.4"/>
<line x1="557.5" y1="548" x2="613" y2="548" stroke="#6b6844" stroke-width="1.3"/>
<line x1="697" y1="548" x2="759.5" y2="548" stroke="#6b6844" stroke-width="1.3"/>
<text transform="translate(616,546) scale(0.83,1)" font-size="23" text-anchor="start" fill="#1a1a1a" font-weight="normal" stroke="#1a1a1a" stroke-width="0.35">36.17 M2</text>
<text transform="translate(560.5,569) scale(0.807,1)" font-size="23" text-anchor="start" fill="#1a1a1a" font-weight="normal" stroke="#1a1a1a" stroke-width="0.35">COM.-ESTAR-COCINA</text>
<rect x="559" y="86" width="71" height="22" fill="#fff" opacity="0.75"/>
<rect x="552" y="109" width="94" height="25" fill="#fff" opacity="0.75"/>
<text transform="translate(561,105) scale(0.83,1)" font-size="23" text-anchor="start" fill="#1a1a1a" font-weight="normal" stroke="#1a1a1a" stroke-width="0.35">7.50 M2</text>
<text transform="translate(556,130) scale(0.807,1)" font-size="23" text-anchor="start" fill="#1a1a1a" font-weight="normal" stroke="#1a1a1a" stroke-width="0.35">TERRAZA</text>
<rect x="963" y="86" width="77" height="22" fill="#fff" opacity="1"/>
<rect x="955" y="109" width="97" height="25" fill="#fff" opacity="1"/>
<text transform="translate(965,105) scale(0.83,1)" font-size="23" text-anchor="start" fill="#1a1a1a" font-weight="normal" stroke="#1a1a1a" stroke-width="0.35">7.50 M2</text>
<text transform="translate(959,130) scale(0.807,1)" font-size="23" text-anchor="start" fill="#1a1a1a" font-weight="normal" stroke="#1a1a1a" stroke-width="0.35">TERRAZA</text>
<text transform="translate(946,487.5) scale(0.83,1)" font-size="23" text-anchor="start" fill="#1a1a1a" font-weight="normal" stroke="#1a1a1a" stroke-width="0.35">27.33 M2</text>
<text transform="translate(902,512) scale(0.807,1)" font-size="23" text-anchor="start" fill="#1a1a1a" font-weight="normal" stroke="#1a1a1a" stroke-width="0.35">COM-ESTAR-COCINA</text>
<text transform="translate(1179,573) scale(0.83,1)" font-size="23" text-anchor="start" fill="#1a1a1a" font-weight="normal" stroke="#1a1a1a" stroke-width="0.35">1.01 M2</text>
<text transform="translate(1186,595.5) scale(0.807,1)" font-size="23" text-anchor="start" fill="#1a1a1a" font-weight="normal" stroke="#1a1a1a" stroke-width="0.35">PASO</text>
<g clip-path="url(#clipL)">
<text transform="translate(1348,579) scale(0.807,1)" font-size="23" text-anchor="start" fill="#1a1a1a" font-weight="normal" stroke="#1a1a1a" stroke-width="0.35">ASEO</text>
<text transform="translate(1342,603) scale(0.83,1)" font-size="23" text-anchor="start" fill="#1a1a1a" font-weight="normal" stroke="#1a1a1a" stroke-width="0.35">2.41 M2</text>
</g>
<text transform="translate(1246,824) scale(0.83,1)" font-size="23" text-anchor="start" fill="#1a1a1a" font-weight="normal" stroke="#1a1a1a" stroke-width="0.35">9.24 M2</text>
<text transform="translate(1257,847.5) scale(0.807,1)" font-size="23" text-anchor="start" fill="#1a1a1a" font-weight="normal" stroke="#1a1a1a" stroke-width="0.35">DORM.1</text>
<text transform="translate(1257,1219.5) scale(0.807,1)" font-size="23" text-anchor="start" fill="#1a1a1a" font-weight="normal" stroke="#1a1a1a" stroke-width="0.35">DORM.1</text>
<text transform="translate(1246,1242) scale(0.83,1)" font-size="23" text-anchor="start" fill="#1a1a1a" font-weight="normal" stroke="#1a1a1a" stroke-width="0.35">9.24 M2</text>
<text transform="translate(880,985) scale(0.8,1)" font-size="41" text-anchor="start" fill="#1a1a1a" font-weight="normal" stroke="#1a1a1a" stroke-width="0.2">M</text>
<text transform="translate(921,955) scale(0.8,1)" font-size="41" text-anchor="start" fill="#1a1a1a" font-weight="normal" stroke="#1a1a1a" stroke-width="0.2">N</text>
<text transform="translate(882,1093) scale(0.8,1)" font-size="41" text-anchor="start" fill="#1a1a1a" font-weight="normal" stroke="#1a1a1a" stroke-width="0.2">L</text>
<text transform="translate(923,1122) scale(0.8,1)" font-size="41" text-anchor="start" fill="#1a1a1a" font-weight="normal" stroke="#1a1a1a" stroke-width="0.2">K</text>
<text transform="translate(698,975) rotate(180) scale(0.9,1)" font-size="7.2" text-anchor="start" fill="#111" font-weight="bold" stroke="#111" stroke-width="0.35">horno/</text>
<text transform="translate(698,983) rotate(180) scale(0.9,1)" font-size="7.2" text-anchor="start" fill="#111" font-weight="bold" stroke="#111" stroke-width="0.35">congelador</text>
<text transform="translate(750,978.5) rotate(180) scale(0.9,1)" font-size="7.2" text-anchor="start" fill="#111" font-weight="bold" stroke="#111" stroke-width="0.35">microfrigo</text>
<text transform="translate(409,1066) scale(0.9,1)" font-size="7.2" text-anchor="start" fill="#111" font-weight="bold" stroke="#111" stroke-width="0.35">microfrigo</text>
<text transform="translate(463,1063) scale(0.9,1)" font-size="7.2" text-anchor="start" fill="#111" font-weight="bold" stroke="#111" stroke-width="0.35">horno/</text>
<text transform="translate(463,1070.5) scale(0.9,1)" font-size="7.2" text-anchor="start" fill="#111" font-weight="bold" stroke="#111" stroke-width="0.35">congelador</text>
<text transform="translate(1137,571) rotate(-90) scale(0.9,1)" font-size="7.2" text-anchor="start" fill="#111" font-weight="bold" stroke="#111" stroke-width="0.35">microfrigo</text>
<text transform="translate(1130,627) rotate(-90) scale(0.9,1)" font-size="7.2" text-anchor="start" fill="#111" font-weight="bold" stroke="#111" stroke-width="0.35">congelador</text>
<text transform="translate(1140,612) rotate(-90) scale(0.9,1)" font-size="7.2" text-anchor="start" fill="#111" font-weight="bold" stroke="#111" stroke-width="0.35">horno/</text>
<text transform="translate(1137,1205) rotate(-90) scale(0.9,1)" font-size="7.2" text-anchor="start" fill="#111" font-weight="bold" stroke="#111" stroke-width="0.35">microfrigo</text>
<text transform="translate(1130,1262) rotate(-90) scale(0.9,1)" font-size="7.2" text-anchor="start" fill="#111" font-weight="bold" stroke="#111" stroke-width="0.35">congelador</text>
<text transform="translate(1140,1247) rotate(-90) scale(0.9,1)" font-size="7.2" text-anchor="start" fill="#111" font-weight="bold" stroke="#111" stroke-width="0.35">horno/</text>
<line x1="1443.7" y1="911" x2="1527.6" y2="911" stroke="#000" stroke-width="1.5"/>
<line x1="1443.7" y1="918" x2="1527.6" y2="918" stroke="#000" stroke-width="1.5"/>
<line x1="1443.7" y1="925" x2="1527.6" y2="925" stroke="#000" stroke-width="1.5"/>
<text transform="translate(1455,916.6) scale(1.25,1)" font-size="5.6" text-anchor="start" fill="#000" font-weight="bold" stroke="#000" stroke-width="0.55">PLANTA PRIMERA</text>
<text transform="translate(1455,923.6) scale(0.95,1)" font-size="5.4" text-anchor="start" fill="#000" font-weight="bold" stroke="#000" stroke-width="0.55">SUP. CONST. 1.265,53 m2</text>
<circle cx="1549.5" cy="913.5" r="9.6" fill="#fff" stroke="#111" stroke-width="2.2"/>
<line x1="1542" y1="917" x2="1555" y2="910" stroke="#b07a3a" stroke-width="1"/>
<line x1="1542" y1="917" x2="1547" y2="913" stroke="#b07a3a" stroke-width="1.2"/>
<line x1="1534.5" y1="926.3" x2="1564.5" y2="926.3" stroke="#000" stroke-width="1.4"/>
</svg>
</body></html>
